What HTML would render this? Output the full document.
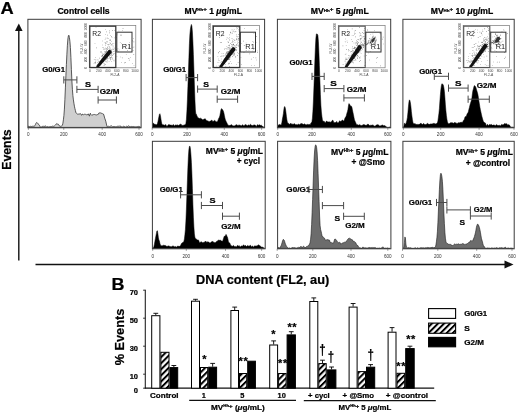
<!DOCTYPE html>
<html><head><meta charset="utf-8"><title>Figure</title>
<style>html,body{margin:0;padding:0;background:#fff;width:520px;height:414px;overflow:hidden}svg{display:block}text[font-weight="bold"]{stroke:#000;stroke-width:0.22px}</style>
</head><body>
<svg width="520" height="414" viewBox="0 0 520 414" font-family='"Liberation Sans", Arial, Helvetica, sans-serif'>
<rect width="520" height="414" fill="#fff"/>
<text x="0.6" y="14.3" font-size="16.8" font-weight="bold" text-anchor="start" fill="#000" textLength="13.2" lengthAdjust="spacingAndGlyphs">A</text>
<line x1="18.8" y1="29" x2="18.8" y2="260.5" stroke="#111" stroke-width="1.4"/>
<polygon points="18.8,23.5 15,31 22.6,31" fill="#111"/>
<text x="10.8" y="149.6" font-size="12.9" font-weight="bold" text-anchor="middle" fill="#000" transform="rotate(-90 10.8 149.6)" textLength="40.4" lengthAdjust="spacingAndGlyphs">Events</text>
<line x1="35.5" y1="264.5" x2="506" y2="264.5" stroke="#111" stroke-width="1.4"/>
<polygon points="513.5,264.5 504.5,260.6 504.5,268.4" fill="#111"/>
<text x="196" y="284.1" font-size="12.4" font-weight="bold" text-anchor="start" fill="#000" textLength="133.2" lengthAdjust="spacingAndGlyphs">DNA content (FL2, au)</text>
<text x="57.4" y="13.9" font-size="8.2" font-weight="bold" text-anchor="start" fill="#000" textLength="52.2" lengthAdjust="spacingAndGlyphs">Control cells</text>
<text x="184.55" y="13.6" font-size="8.2" font-weight="bold" textLength="57.4" lengthAdjust="spacingAndGlyphs">MV<tspan font-size="4.26" dy="-2.13">Hh</tspan><tspan font-size="5.9" dy="-0.82">+</tspan><tspan dy="2.95"> 1 <tspan font-style="italic">μ</tspan>g/mL</tspan></text>
<text x="310.75" y="13.8" font-size="8.2" font-weight="bold" textLength="58.1" lengthAdjust="spacingAndGlyphs">MV<tspan font-size="4.26" dy="-2.13">Hh</tspan><tspan font-size="5.9" dy="-0.82">+</tspan><tspan dy="2.95"> 5 <tspan font-style="italic">μ</tspan>g/mL</tspan></text>
<text x="430.75" y="13.8" font-size="8.2" font-weight="bold" textLength="62.4" lengthAdjust="spacingAndGlyphs">MV<tspan font-size="4.26" dy="-2.13">Hh</tspan><tspan font-size="5.9" dy="-0.82">+</tspan><tspan dy="2.95"> 10 <tspan font-style="italic">μ</tspan>g/mL</tspan></text>
<path d="M28.4,127.4L28.4,126.31L28.9,126.17L29.4,126.47L29.9,126.7L30.4,126.36L30.9,126.32L31.4,126.51L31.9,126.36L32.4,126.26L32.9,126.33L33.4,126.28L33.9,126.2L34.4,126.1L34.9,125.61L35.4,124.62L35.9,123.42L36.4,122.65L36.9,122.58L37.4,122.91L37.9,123.44L38.4,124.24L38.9,124.93L39.4,125.21L39.9,126.06L40.4,127.28L40.9,127.4L41.4,126.87L41.9,126.61L42.4,126.47L42.9,126.11L43.4,126.02L43.9,126.57L44.4,126.47L44.9,125.88L45.4,125.93L45.9,126.29L46.4,126.79L46.9,127.02L47.4,126.67L47.9,126.62L48.4,126.93L48.9,126.88L49.4,126.75L49.9,126.79L50.4,126.65L50.9,126.48L51.4,126.55L51.9,126.55L52.4,126.26L52.9,126.06L53.4,126.28L53.9,126.32L54.4,125.95L54.9,125.48L55.4,125.01L55.9,124.5L56.4,123.76L56.9,123.63L57.4,124.06L57.9,124.15L58.4,124.31L58.9,124.99L59.4,125.93L59.9,126.36L60.4,126.33L60.9,126.32L61.4,126.04L61.9,125.77L62.4,125.33L62.9,123.26L63.4,119.82L63.9,115.69L64.4,109.11L64.9,99.33L65.4,87.87L65.9,75.76L66.4,64.44L66.9,54.18L67.4,45.24L67.9,39.01L68.4,35.68L68.9,35.17L69.4,37.43L69.9,41.32L70.4,47.44L70.9,57.4L71.4,69.68L71.9,80.87L72.4,89.4L72.9,95.63L73.4,99.92L73.9,103.21L74.4,106.19L74.9,108.52L75.4,110.5L75.9,112.59L76.4,113.14L76.9,113.49L77.4,114.21L77.9,114.24L78.4,114.12L78.9,114L79.4,114.01L79.9,113.78L80.4,113.54L80.9,114.18L81.4,115.24L81.9,115.05L82.4,114.01L82.9,114.28L83.4,114.85L83.9,114.65L84.4,114.34L84.9,114.1L85.4,114.26L85.9,114.67L86.4,114.75L86.9,114.71L87.4,114.74L87.9,114.03L88.4,113.93L88.9,115.54L89.4,116.02L89.9,114.16L90.4,113.27L90.9,114.68L91.4,115.26L91.9,114.74L92.4,114.92L92.9,115.07L93.4,114.67L93.9,114.41L94.4,114.49L94.9,114.48L95.4,114.68L95.9,114.96L96.4,114.95L96.9,114.78L97.4,114.59L97.9,114.74L98.4,114.13L98.9,112.94L99.4,112.86L99.9,112.97L100.4,112.85L100.9,113.18L101.4,113.27L101.9,113.08L102.4,113.59L102.9,114.09L103.4,114.02L103.9,115.12L104.4,117.05L104.9,118.74L105.4,120.03L105.9,121.74L106.4,124.06L106.9,125.93L107.4,126.94L107.9,126.68L108.4,126.28L108.9,126.53L109.4,126.68L109.9,126.42L110.4,126.17L110.9,125.93L111.4,125.81L111.9,126.24L112.4,126.66L112.9,126.63L113.4,126.52L113.9,126.48L114.4,126.47L114.9,126.69L115.4,126.83L115.9,126.58L116.4,126.71L116.9,126.83L117.4,126.3L117.9,125.96L118.4,126.15L118.9,126.52L119.4,126.33L119.9,125.69L120.4,126L120.9,126.81L121.4,126.87L121.9,126.81L122.4,126.91L122.9,126.74L123.4,126.43L123.9,126.08L124.4,126.44L124.9,127.13L125.4,127.1L125.9,126.8L126.4,126.39L126.9,126.22L127.4,126.47L127.9,126.46L128.4,125.84L128.9,125.82L129.4,126.46L129.9,126.64L130.4,126.64L130.9,126.78L131.4,126.6L131.9,126.29L132.4,126.55L132.9,126.65L133.4,126.49L133.9,126.65L134.4,126.74L134.9,126.71L135.4,126.79L135.9,126.91L136.4,126.82L136.9,126.67L137.4,126.62L137.9,126.57L138.4,126.47L138.9,126.37L139.4,126.53L139.9,126.79L140.4,126.95L140.4,127.4 Z" fill="#cfcfcf" stroke="#333" stroke-width="0.8" stroke-linejoin="round"/>
<rect x="27.9" y="19.3" width="113.2" height="108.5" fill="none" stroke="#3a3a3a" stroke-width="1"/>
<line x1="28.4" y1="127.8" x2="28.4" y2="129.8" stroke="#555" stroke-width="0.6"/>
<text x="28.4" y="136" font-size="4.6" font-weight="normal" text-anchor="middle" fill="#333">0</text>
<line x1="63.75" y1="127.8" x2="63.75" y2="129.8" stroke="#555" stroke-width="0.6"/>
<text x="63.75" y="136" font-size="4.6" font-weight="normal" text-anchor="middle" fill="#333">200</text>
<line x1="102.2" y1="127.8" x2="102.2" y2="129.8" stroke="#555" stroke-width="0.6"/>
<text x="102.2" y="136" font-size="4.6" font-weight="normal" text-anchor="middle" fill="#333">400</text>
<line x1="139" y1="127.8" x2="139" y2="129.8" stroke="#555" stroke-width="0.6"/>
<text x="139" y="136" font-size="4.6" font-weight="normal" text-anchor="middle" fill="#333">600</text>
<path d="M152.9,127.4L152.9,124.62L153.4,122.9L153.9,123.74L154.4,124.58L154.9,124.11L155.4,124.24L155.9,124.88L156.4,124.75L156.9,124.57L157.4,123.85L157.9,121.86L158.4,119.37L158.9,116.77L159.4,114.41L159.9,113.69L160.4,115.39L160.9,118.64L161.4,121.8L161.9,123.91L162.4,124.8L162.9,124.82L163.4,124.84L163.9,124.93L164.4,125.17L164.9,125.37L165.4,124.66L165.9,124.52L166.4,125.81L166.9,126.57L167.4,126.01L167.9,125.14L168.4,124.75L168.9,124.57L169.4,124.63L169.9,124.9L170.4,125.07L170.9,125.03L171.4,125.11L171.9,125.58L172.4,125.56L172.9,124.81L173.4,124.56L173.9,125.37L174.4,125.92L174.9,125.46L175.4,124.96L175.9,124.82L176.4,125.09L176.9,125.47L177.4,124.9L177.9,124.83L178.4,125.54L178.9,125.18L179.4,124.64L179.9,124.7L180.4,124.27L180.9,123.95L181.4,124.65L181.9,125.42L182.4,125.44L182.9,125.13L183.4,125.17L183.9,125.29L184.4,124.98L184.9,124.66L185.4,124.48L185.9,123.45L186.4,119.35L186.9,111.06L187.4,99.95L187.9,86.69L188.4,72.37L188.9,57.67L189.4,43.77L189.9,34.17L190.4,29.23L190.9,26.16L191.4,24.44L191.9,26.14L192.4,31.97L192.9,41.82L193.4,54.67L193.9,69.16L194.4,84.95L194.9,99.28L195.4,110.03L195.9,114.57L196.4,114.28L196.9,115.79L197.4,117.1L197.9,117.39L198.4,117.87L198.9,118.34L199.4,118.51L199.9,118.37L200.4,118.17L200.9,118.45L201.4,118.78L201.9,119.03L202.4,119.55L202.9,119.94L203.4,119.54L203.9,119.02L204.4,119L204.9,118.87L205.4,118.87L205.9,120.02L206.4,120.57L206.9,120.4L207.4,120.8L207.9,121.02L208.4,121.16L208.9,121.59L209.4,121.71L209.9,121.09L210.4,121.1L210.9,121.11L211.4,120.16L211.9,120.13L212.4,120.97L212.9,121.39L213.4,121.26L213.9,120.89L214.4,120.41L214.9,120.49L215.4,121.15L215.9,121.42L216.4,121.64L216.9,121.91L217.4,121.53L217.9,120.54L218.4,119.14L218.9,118.07L219.4,117.22L219.9,115.47L220.4,112.74L220.9,109.98L221.4,108.77L221.9,108.75L222.4,109.47L222.9,110.27L223.4,111.17L223.9,112.96L224.4,115.53L224.9,118.02L225.4,119.76L225.9,121.01L226.4,121.96L226.9,122.98L227.4,124.07L227.9,124.9L228.4,125.19L228.9,125.43L229.4,125.51L229.9,125.32L230.4,125.26L230.9,124.99L231.4,124.7L231.9,124.79L232.4,125.38L232.9,125.95L233.4,125.86L233.9,125.89L234.4,125.97L234.9,125.38L235.4,125.2L235.9,125.16L236.4,124.72L236.9,124.68L237.4,125.18L237.9,125.51L238.4,125.21L238.9,125.18L239.4,125.28L239.9,124.84L240.4,125.18L240.9,125.89L241.4,125.82L241.9,125.46L242.4,124.82L242.9,124.86L243.4,125.68L243.9,125.78L244.4,125.39L244.9,124.96L245.4,124.46L245.9,124.63L246.4,125.04L246.9,125.44L247.4,125.86L247.9,125.31L248.4,124.81L248.9,125.24L249.4,125.41L249.9,124.71L250.4,124.23L250.9,124.94L251.4,125.32L251.9,125.22L252.4,125.58L252.9,125.5L253.4,125.14L253.9,125.11L254.4,125.08L254.9,124.76L255.4,125.16L255.9,126.27L256.4,126.45L256.9,125.47L257.4,124.7L257.9,124.86L258.4,125.19L258.9,125.13L259.4,124.86L259.9,124.83L260.4,125.27L260.9,125.59L261.4,125.28L261.9,125.73L262.4,126.44L262.9,126.35L263.4,126.79L263.9,127.4L263.9,127.4 Z" fill="#000" stroke="#000" stroke-width="0.5" stroke-linejoin="round"/>
<rect x="152.4" y="19.3" width="112.2" height="108.5" fill="none" stroke="#3a3a3a" stroke-width="1"/>
<line x1="152.2" y1="127.8" x2="152.2" y2="129.8" stroke="#555" stroke-width="0.6"/>
<text x="152.2" y="136" font-size="4.6" font-weight="normal" text-anchor="middle" fill="#333">0</text>
<line x1="187.1" y1="127.8" x2="187.1" y2="129.8" stroke="#555" stroke-width="0.6"/>
<text x="187.1" y="136" font-size="4.6" font-weight="normal" text-anchor="middle" fill="#333">200</text>
<line x1="224.3" y1="127.8" x2="224.3" y2="129.8" stroke="#555" stroke-width="0.6"/>
<text x="224.3" y="136" font-size="4.6" font-weight="normal" text-anchor="middle" fill="#333">400</text>
<line x1="261.6" y1="127.8" x2="261.6" y2="129.8" stroke="#555" stroke-width="0.6"/>
<text x="261.6" y="136" font-size="4.6" font-weight="normal" text-anchor="middle" fill="#333">600</text>
<path d="M277.9,127.4L277.9,125.99L278.4,124.88L278.9,124.71L279.4,124.46L279.9,124.57L280.4,124.8L280.9,125.04L281.4,124.4L281.9,122.32L282.4,119.08L282.9,116.43L283.4,113.39L283.9,109.3L284.4,106.74L284.9,106.63L285.4,108.46L285.9,112.1L286.4,116.37L286.9,119.76L287.4,122.21L287.9,123.15L288.4,123.13L288.9,123.65L289.4,124.33L289.9,124.27L290.4,123.56L290.9,123.27L291.4,123.94L291.9,124.14L292.4,124L292.9,124.44L293.4,124.33L293.9,123.74L294.4,123.72L294.9,123.88L295.4,124.51L295.9,125.09L296.4,124.59L296.9,124.78L297.4,125.1L297.9,124.29L298.4,123.92L298.9,124.48L299.4,124.78L299.9,124.44L300.4,123.9L300.9,123.41L301.4,123.5L301.9,123.69L302.4,123.7L302.9,124.25L303.4,124.53L303.9,124.01L304.4,123.85L304.9,124.34L305.4,124.54L305.9,124.82L306.4,125.1L306.9,124.31L307.4,124.15L307.9,124.75L308.4,124.66L308.9,124.3L309.4,124.33L309.9,124.86L310.4,124.47L310.9,123.06L311.4,122.51L311.9,121.94L312.4,118.2L312.9,111.13L313.4,101.02L313.9,87.98L314.4,74.04L314.9,60.01L315.4,47.37L315.9,38.09L316.4,33.9L316.9,33.96L317.4,34.17L317.9,35.38L318.4,41.57L318.9,52.35L319.4,65.49L319.9,80.28L320.4,94.3L320.9,105.24L321.4,111.99L321.9,116.35L322.4,119.77L322.9,121.28L323.4,121.35L323.9,121.2L324.4,121.53L324.9,122.62L325.4,122.98L325.9,121.97L326.4,121.07L326.9,121.17L327.4,121.72L327.9,122L328.4,121.97L328.9,121.83L329.4,121.84L329.9,122.16L330.4,122.16L330.9,121.88L331.4,121.69L331.9,121.1L332.4,120.26L332.9,120.2L333.4,121.37L333.9,122.74L334.4,122.85L334.9,122.26L335.4,122.46L335.9,122.73L336.4,121.71L336.9,121.49L337.4,122.64L337.9,123.03L338.4,122.64L338.9,122L339.4,121.11L339.9,120.79L340.4,121.29L340.9,121.46L341.4,121L341.9,120.42L342.4,120.1L342.9,120.35L343.4,120.95L343.9,120.93L344.4,119.87L344.9,118.22L345.4,117.28L345.9,116.83L346.4,115.31L346.9,113.24L347.4,111.73L347.9,109.7L348.4,106.09L348.9,103.55L349.4,103.92L349.9,104.96L350.4,105.79L350.9,106.25L351.4,106.14L351.9,107.31L352.4,109.78L352.9,112.15L353.4,114.41L353.9,117.09L354.4,119.61L354.9,120.91L355.4,121.88L355.9,123.17L356.4,124.13L356.9,124.69L357.4,124.71L357.9,124.67L358.4,125.1L358.9,125.19L359.4,124.85L359.9,124.56L360.4,124.97L360.9,125.71L361.4,125.57L361.9,125.39L362.4,125.27L362.9,124.81L363.4,124.57L363.9,124.72L364.4,124.8L364.9,124.77L365.4,125.22L365.9,125.35L366.4,125.22L366.9,125.02L367.4,124.42L367.9,124.1L368.4,124.31L368.9,125.05L369.4,125.53L369.9,125.26L370.4,125.19L370.9,125.41L371.4,125.37L371.9,125L372.4,124.88L372.9,125.13L373.4,125.24L373.9,125.65L374.4,126.07L374.9,126.13L375.4,126L375.9,125.37L376.4,124.92L376.9,125L377.4,124.78L377.9,124.55L378.4,124.92L378.9,125.32L379.4,125.8L379.9,125.96L380.4,125.78L380.9,125.83L381.4,125.49L381.9,125.04L382.4,124.96L382.9,125.37L383.4,125.68L383.9,125.54L384.4,125.59L384.9,125.68L385.4,125.88L385.9,126.38L386.4,127.02L386.9,127.4L387.4,127.4L387.9,127.4L388.4,127.4L388.9,127.4L389.4,127.11L389.9,126.94L389.9,127.4 Z" fill="#000" stroke="#000" stroke-width="0.5" stroke-linejoin="round"/>
<rect x="277.4" y="19.3" width="113.3" height="108.5" fill="none" stroke="#3a3a3a" stroke-width="1"/>
<line x1="277.7" y1="127.8" x2="277.7" y2="129.8" stroke="#555" stroke-width="0.6"/>
<text x="277.7" y="136" font-size="4.6" font-weight="normal" text-anchor="middle" fill="#333">0</text>
<line x1="312.1" y1="127.8" x2="312.1" y2="129.8" stroke="#555" stroke-width="0.6"/>
<text x="312.1" y="136" font-size="4.6" font-weight="normal" text-anchor="middle" fill="#333">200</text>
<line x1="351.3" y1="127.8" x2="351.3" y2="129.8" stroke="#555" stroke-width="0.6"/>
<text x="351.3" y="136" font-size="4.6" font-weight="normal" text-anchor="middle" fill="#333">400</text>
<line x1="387.8" y1="127.8" x2="387.8" y2="129.8" stroke="#555" stroke-width="0.6"/>
<text x="387.8" y="136" font-size="4.6" font-weight="normal" text-anchor="middle" fill="#333">600</text>
<path d="M403.4,127.4L403.4,127.4L403.9,126.08L404.4,123.27L404.9,123.58L405.4,124.16L405.9,123.54L406.4,122.15L406.9,120.33L407.4,117.47L407.9,112.74L408.4,106.95L408.9,102.19L409.4,99.85L409.9,100.56L410.4,102.82L410.9,106.42L411.4,111.68L411.9,115.93L412.4,119.42L412.9,122.21L413.4,123.5L413.9,123.87L414.4,123.83L414.9,123.6L415.4,123.77L415.9,124.44L416.4,124.56L416.9,124.21L417.4,124.3L417.9,124.78L418.4,124.53L418.9,124.29L419.4,124.36L419.9,123.86L420.4,123.52L420.9,123.35L421.4,123.6L421.9,124.37L422.4,124.57L422.9,124.09L423.4,123.56L423.9,123.64L424.4,124.24L424.9,124.56L425.4,124.57L425.9,124.45L426.4,124.24L426.9,123.68L427.4,123.29L427.9,123.84L428.4,124.13L428.9,124.07L429.4,124.37L429.9,124.34L430.4,123.91L430.9,123.95L431.4,124.1L431.9,123.78L432.4,123.83L432.9,123.83L433.4,123.48L433.9,123.34L434.4,123.39L434.9,123.7L435.4,123.86L435.9,123.94L436.4,123.76L436.9,123.12L437.4,122.76L437.9,121.02L438.4,117.17L438.9,113.54L439.4,108.45L439.9,101.12L440.4,94.56L440.9,89.22L441.4,85.53L441.9,83.8L442.4,83.88L442.9,84.48L443.4,85.37L443.9,87.73L444.4,91.55L444.9,97.56L445.4,104.9L445.9,110.8L446.4,115.44L446.9,119.14L447.4,121.75L447.9,123.17L448.4,123.61L448.9,123.69L449.4,123.54L449.9,123.21L450.4,122.77L450.9,122.83L451.4,122.85L451.9,122.56L452.4,122.74L452.9,123.12L453.4,123.27L453.9,123.04L454.4,122.59L454.9,122.55L455.4,122.7L455.9,122.89L456.4,123.14L456.9,123.38L457.4,123.38L457.9,122.85L458.4,122.74L458.9,122.84L459.4,122.7L459.9,122.83L460.4,122.62L460.9,122.1L461.4,122.26L461.9,122.38L462.4,122.15L462.9,121.65L463.4,120.51L463.9,119.98L464.4,119.14L464.9,117.26L465.4,116.47L465.9,116.64L466.4,115.93L466.9,114.41L467.4,113.37L467.9,112.93L468.4,111.54L468.9,109.37L469.4,107.52L469.9,105.36L470.4,103.47L470.9,101.99L471.4,100.29L471.9,97.92L472.4,93.85L472.9,90.52L473.4,88.92L473.9,86.76L474.4,85.52L474.9,85.91L475.4,86.41L475.9,87.44L476.4,89.2L476.9,90.9L477.4,92.59L477.9,94.59L478.4,97.57L478.9,100.94L479.4,103.89L479.9,107.11L480.4,109.79L480.9,111.91L481.4,114.31L481.9,116.41L482.4,118.2L482.9,120.04L483.4,121.4L483.9,121.95L484.4,122.38L484.9,122.81L485.4,123.06L485.9,124.38L486.4,125.75L486.9,125.16L487.4,124.32L487.9,124.75L488.4,125.39L488.9,125.27L489.4,124.62L489.9,124.41L490.4,124.66L490.9,124.63L491.4,124.42L491.9,124.85L492.4,125.36L492.9,125.11L493.4,125.01L493.9,125.07L494.4,124.93L494.9,125.6L495.4,126L495.9,124.97L496.4,124.54L496.9,125.12L497.4,125.32L497.9,125.43L498.4,125.58L498.9,125.37L499.4,125.29L499.9,125.55L500.4,125.74L500.9,125.41L501.4,124.64L501.9,124.35L502.4,124.65L502.9,125.05L503.4,124.97L503.9,124.02L504.4,123.59L504.9,123.76L505.4,123.66L505.9,123.96L506.4,123.8L506.9,123.73L507.4,124.7L507.9,125.15L508.4,124.7L508.9,124.61L509.4,125.04L509.9,125.82L510.4,126.67L510.9,127.03L511.4,127.14L511.9,127.26L512.4,127.2L512.9,127.05L513.4,126.95L513.4,127.4 Z" fill="#000" stroke="#000" stroke-width="0.5" stroke-linejoin="round"/>
<rect x="402.9" y="19.3" width="111.3" height="108.5" fill="none" stroke="#3a3a3a" stroke-width="1"/>
<line x1="403.4" y1="127.8" x2="403.4" y2="129.8" stroke="#555" stroke-width="0.6"/>
<text x="403.4" y="136" font-size="4.6" font-weight="normal" text-anchor="middle" fill="#333">0</text>
<line x1="440.7" y1="127.8" x2="440.7" y2="129.8" stroke="#555" stroke-width="0.6"/>
<text x="440.7" y="136" font-size="4.6" font-weight="normal" text-anchor="middle" fill="#333">200</text>
<line x1="479.1" y1="127.8" x2="479.1" y2="129.8" stroke="#555" stroke-width="0.6"/>
<text x="479.1" y="136" font-size="4.6" font-weight="normal" text-anchor="middle" fill="#333">400</text>
<line x1="514" y1="127.8" x2="514" y2="129.8" stroke="#555" stroke-width="0.6"/>
<text x="514" y="136" font-size="4.6" font-weight="normal" text-anchor="middle" fill="#333">600</text>
<path d="M152.9,248.4L152.9,248.4L153.4,247.82L153.9,246.5L154.4,244.18L154.9,241.34L155.4,238.63L155.9,236.1L156.4,233.4L156.9,230.97L157.4,230.78L157.9,233.85L158.4,237.8L158.9,239.92L159.4,241.06L159.9,243.31L160.4,245.12L160.9,245.5L161.4,245.71L161.9,245.79L162.4,245.71L162.9,245.55L163.4,245.22L163.9,245.37L164.4,245.57L164.9,245.19L165.4,245.38L165.9,246.11L166.4,246.25L166.9,246.13L167.4,246.22L167.9,246.29L168.4,246.02L168.9,245.87L169.4,246.2L169.9,246.48L170.4,246.55L170.9,246.81L171.4,246.77L171.9,246.48L172.4,246.27L172.9,245.74L173.4,246.06L173.9,246.84L174.4,246.78L174.9,246.67L175.4,246.5L175.9,246.68L176.4,247.15L176.9,246.82L177.4,246.17L177.9,246.08L178.4,246.29L178.9,246.25L179.4,246.36L179.9,246.37L180.4,245.7L180.9,244.67L181.4,243.73L181.9,242.99L182.4,242.78L182.9,242.48L183.4,241.96L183.9,241.35L184.4,238.97L184.9,234.84L185.4,229.46L185.9,221.05L186.4,209.12L186.9,195.21L187.4,180.94L187.9,167.37L188.4,156.2L188.9,149.49L189.4,146.47L189.9,145.99L190.4,148.48L190.9,154.19L191.4,162.27L191.9,173.5L192.4,188.37L192.9,204.14L193.4,217.15L193.9,226.88L194.4,233.94L194.9,237.34L195.4,238.18L195.9,238.88L196.4,239.17L196.9,239.48L197.4,240.01L197.9,239.92L198.4,239.9L198.9,241.07L199.4,242.41L199.9,242.7L200.4,242.19L200.9,241.81L201.4,241.84L201.9,242.17L202.4,242.52L202.9,242.66L203.4,242.49L203.9,242.25L204.4,242.26L204.9,241.69L205.4,241L205.9,241.84L206.4,242.43L206.9,241.6L207.4,241.8L207.9,242.36L208.4,241.96L208.9,242.11L209.4,242.69L209.9,242.96L210.4,242.88L210.9,242.15L211.4,241.7L211.9,241.96L212.4,241.53L212.9,241.36L213.4,242.2L213.9,242.35L214.4,242.4L214.9,242.87L215.4,242.69L215.9,241.89L216.4,241.49L216.9,241.55L217.4,241.11L217.9,240.46L218.4,240.17L218.9,240.08L219.4,240.28L219.9,240.22L220.4,240.03L220.9,240.6L221.4,241.04L221.9,241.1L222.4,241.25L222.9,240.4L223.4,238.75L223.9,237.2L224.4,236.08L224.9,236.31L225.4,236.05L225.9,234.38L226.4,234.76L226.9,236.3L227.4,236.91L227.9,238.89L228.4,241.39L228.9,242.47L229.4,242.77L229.9,243.33L230.4,244.6L230.9,245.46L231.4,245.74L231.9,246.16L232.4,246.32L232.9,245.86L233.4,245.41L233.9,245.78L234.4,246.59L234.9,246.75L235.4,246.44L235.9,246.5L236.4,246.86L236.9,246.53L237.4,245.44L237.9,245.51L238.4,246.13L238.9,245.64L239.4,245.85L239.9,246.94L240.4,246.91L240.9,246.24L241.4,245.93L241.9,246.06L242.4,246.23L242.9,245.78L243.4,244.88L243.9,244.92L244.4,246.06L244.9,246.03L245.4,245.37L245.9,246.07L246.4,246.54L246.9,246.1L247.4,245.67L247.9,245.48L248.4,245.9L248.9,246.28L249.4,246.02L249.9,245.5L250.4,245.26L250.9,245.99L251.4,246.88L251.9,246.51L252.4,245.82L252.9,246.46L253.4,247.22L253.9,246.79L254.4,245.97L254.9,245.81L255.4,246.14L255.9,245.87L256.4,245.77L256.9,246.27L257.4,245.95L257.9,245.04L258.4,244.83L258.9,245.31L259.4,245.54L259.9,245.58L260.4,246.01L260.9,246.64L261.4,247.1L261.9,247.34L262.4,247.13L262.9,247.12L263.4,247.73L263.9,247.92L264.4,247.91L264.4,248.4 Z" fill="#000" stroke="#000" stroke-width="0.5" stroke-linejoin="round"/>
<rect x="152.4" y="141.3" width="112.8" height="107.5" fill="none" stroke="#3a3a3a" stroke-width="1"/>
<line x1="152.7" y1="248.8" x2="152.7" y2="250.8" stroke="#555" stroke-width="0.6"/>
<text x="152.7" y="257.8" font-size="4.6" font-weight="normal" text-anchor="middle" fill="#333">0</text>
<line x1="186.3" y1="248.8" x2="186.3" y2="250.8" stroke="#555" stroke-width="0.6"/>
<text x="186.3" y="257.8" font-size="4.6" font-weight="normal" text-anchor="middle" fill="#333">200</text>
<line x1="225.5" y1="248.8" x2="225.5" y2="250.8" stroke="#555" stroke-width="0.6"/>
<text x="225.5" y="257.8" font-size="4.6" font-weight="normal" text-anchor="middle" fill="#333">400</text>
<line x1="261.6" y1="248.8" x2="261.6" y2="250.8" stroke="#555" stroke-width="0.6"/>
<text x="261.6" y="257.8" font-size="4.6" font-weight="normal" text-anchor="middle" fill="#333">600</text>
<path d="M278.1,248.4L278.1,247.5L278.6,247.57L279.1,248.4L279.6,248.11L280.1,247.12L280.6,246.5L281.1,245.67L281.6,244.27L282.1,242.59L282.6,240.72L283.1,239.49L283.6,239.6L284.1,240.11L284.6,241.31L285.1,243.11L285.6,244.41L286.1,245.38L286.6,246.41L287.1,247.14L287.6,247.53L288.1,248.07L288.6,248.28L289.1,247.96L289.6,248.05L290.1,248.4L290.6,248.4L291.1,248.19L291.6,247.93L292.1,247.6L292.6,247.54L293.1,247.71L293.6,247.65L294.1,247.61L294.6,247.64L295.1,247.67L295.6,247.93L296.1,248.16L296.6,248.04L297.1,247.76L297.6,247.82L298.1,247.66L298.6,247.17L299.1,247.34L299.6,247.47L300.1,246.91L300.6,246.57L301.1,246.74L301.6,246.79L302.1,247.05L302.6,247.25L303.1,246.6L303.6,246.29L304.1,246.65L304.6,247.06L305.1,247.56L305.6,247.6L306.1,246.93L306.6,246.47L307.1,246.46L307.6,246.13L308.1,245.72L308.6,245.55L309.1,244.82L309.6,243.84L310.1,242.4L310.6,239.24L311.1,233.82L311.6,224.63L312.1,212.55L312.6,199.52L313.1,185.15L313.6,170.85L314.1,158.99L314.6,150.96L315.1,146.48L315.6,144.88L316.1,145.31L316.6,147.33L317.1,151.7L317.6,160.38L318.1,173.55L318.6,187.53L319.1,201.5L319.6,216.03L320.1,225.61L320.6,229.48L321.1,231.24L321.6,233.65L322.1,236.02L322.6,236.82L323.1,236.75L323.6,237.46L324.1,238.2L324.6,238.33L325.1,239.37L325.6,240.45L326.1,240.21L326.6,239.78L327.1,239.73L327.6,239.62L328.1,239.62L328.6,240.03L329.1,240.01L329.6,240.31L330.1,241.95L330.6,242.59L331.1,242.18L331.6,242.75L332.1,243.32L332.6,242.89L333.1,243L333.6,242.89L334.1,241.06L334.6,239.28L335.1,238.89L335.6,239.27L336.1,239.8L336.6,240.43L337.1,241.15L337.6,241.88L338.1,242.5L338.6,242.78L339.1,242.49L339.6,242.15L340.1,242.69L340.6,244.01L341.1,244.27L341.6,243.48L342.1,243.18L342.6,242.96L343.1,242.78L343.6,242.65L344.1,242.34L344.6,242.24L345.1,242.53L345.6,242.32L346.1,241.38L346.6,240.79L347.1,240.3L347.6,239.53L348.1,238.82L348.6,238.51L349.1,238.29L349.6,238.24L350.1,238.64L350.6,238.86L351.1,238.97L351.6,239.64L352.1,239.85L352.6,239.88L353.1,241.22L353.6,241.57L354.1,241.24L354.6,242.07L355.1,242.38L355.6,242.45L356.1,243.48L356.6,244.75L357.1,245.31L357.6,245.24L358.1,246.02L358.6,247.2L359.1,247.59L359.6,247.71L360.1,247.81L360.6,248.03L361.1,248.37L361.6,248.34L362.1,247.95L362.6,247.24L363.1,246.94L363.6,247.52L364.1,247.9L364.6,247.86L365.1,247.88L365.6,247.81L366.1,247.84L366.6,248.11L367.1,248.26L367.6,247.98L368.1,247.74L368.6,247.67L369.1,247.45L369.6,247.56L370.1,247.69L370.6,247.71L371.1,247.94L371.6,247.59L372.1,247.36L372.6,247.85L373.1,247.97L373.6,247.56L374.1,247.41L374.6,247.66L375.1,247.76L375.6,247.69L376.1,248L376.6,248.38L377.1,248.27L377.6,248.28L378.1,248.4L378.6,248.24L379.1,248.08L379.6,248.14L380.1,248.4L380.6,248.4L381.1,248.4L381.6,247.68L382.1,247.25L382.6,247.19L383.1,247.24L383.6,247.41L384.1,247.88L384.6,248.35L385.1,248.26L385.6,248.18L386.1,248.38L386.6,248.26L387.1,247.86L387.6,248.12L388.1,248.4L388.6,248.33L389.1,248.39L389.6,248.4L390.1,248.4L390.1,248.4 Z" fill="#6c6c6c" stroke="#1a1a1a" stroke-width="0.6" stroke-linejoin="round"/>
<rect x="277.6" y="141.3" width="113.3" height="107.5" fill="none" stroke="#3a3a3a" stroke-width="1"/>
<line x1="277.2" y1="248.8" x2="277.2" y2="250.8" stroke="#555" stroke-width="0.6"/>
<text x="277.2" y="257.8" font-size="4.6" font-weight="normal" text-anchor="middle" fill="#333">0</text>
<line x1="312.8" y1="248.8" x2="312.8" y2="250.8" stroke="#555" stroke-width="0.6"/>
<text x="312.8" y="257.8" font-size="4.6" font-weight="normal" text-anchor="middle" fill="#333">200</text>
<line x1="351" y1="248.8" x2="351" y2="250.8" stroke="#555" stroke-width="0.6"/>
<text x="351" y="257.8" font-size="4.6" font-weight="normal" text-anchor="middle" fill="#333">400</text>
<line x1="387.8" y1="248.8" x2="387.8" y2="250.8" stroke="#555" stroke-width="0.6"/>
<text x="387.8" y="257.8" font-size="4.6" font-weight="normal" text-anchor="middle" fill="#333">600</text>
<path d="M403.4,248.4L403.4,248.26L403.9,247L404.4,242.58L404.9,236.93L405.4,237.9L405.9,244L406.4,246.98L406.9,247.44L407.4,247.83L407.9,247.97L408.4,247.7L408.9,247.62L409.4,247.85L409.9,248.04L410.4,247.84L410.9,247.8L411.4,248.13L411.9,248.36L412.4,248.4L412.9,248.4L413.4,248.4L413.9,248.28L414.4,248.14L414.9,247.88L415.4,247.75L415.9,248.17L416.4,248.4L416.9,248.29L417.4,247.87L417.9,247.98L418.4,248.26L418.9,248.27L419.4,248.24L419.9,248.01L420.4,247.73L420.9,247.88L421.4,247.8L421.9,247.64L422.4,247.85L422.9,247.89L423.4,247.78L423.9,247.93L424.4,248.11L424.9,247.76L425.4,247.63L425.9,247.92L426.4,247.76L426.9,247.74L427.4,247.69L427.9,247.24L428.4,247.48L428.9,248.01L429.4,247.86L429.9,247.65L430.4,247.66L430.9,247.62L431.4,247.59L431.9,247.36L432.4,247.3L432.9,247.61L433.4,247.69L433.9,247.58L434.4,247.54L434.9,247.46L435.4,246.8L435.9,245.04L436.4,241.87L436.9,237.54L437.4,231.8L437.9,222.49L438.4,211.1L438.9,200.12L439.4,189.33L439.9,180.22L440.4,174.69L440.9,173.21L441.4,174.09L441.9,176.56L442.4,181.32L442.9,189.4L443.4,200.93L443.9,213.02L444.4,223.69L444.9,232.26L445.4,238.16L445.9,241.39L446.4,242.76L446.9,243.41L447.4,243.54L447.9,243.84L448.4,244.21L448.9,244.35L449.4,244.39L449.9,244.29L450.4,244.33L450.9,244.66L451.4,244.93L451.9,245.03L452.4,245.53L452.9,245.69L453.4,245.19L453.9,244.86L454.4,244.14L454.9,243.7L455.4,244.4L455.9,244.71L456.4,244.26L456.9,244.09L457.4,244.26L457.9,244.19L458.4,243.85L458.9,244L459.4,244.42L459.9,244.29L460.4,244.24L460.9,244.35L461.4,244.23L461.9,244.02L462.4,243.64L462.9,243.57L463.4,243.85L463.9,244.01L464.4,244.28L464.9,244.71L465.4,244.38L465.9,244.04L466.4,244.05L466.9,243.76L467.4,243.55L467.9,243.19L468.4,242.75L468.9,242.22L469.4,242.11L469.9,241.98L470.4,240.86L470.9,240.35L471.4,240.9L471.9,241.13L472.4,241.01L472.9,240.35L473.4,239.1L473.9,238.01L474.4,236.64L474.9,234.78L475.4,232.88L475.9,230.3L476.4,227.36L476.9,225.41L477.4,224.26L477.9,224.19L478.4,225.02L478.9,226.06L479.4,227.59L479.9,229.64L480.4,232.22L480.9,235.27L481.4,238.28L481.9,240.09L482.4,241.55L482.9,243.88L483.4,245.59L483.9,246.04L484.4,246.72L484.9,247.76L485.4,248.17L485.9,248.38L486.4,248.4L486.9,248.05L487.4,247.96L487.9,248.16L488.4,248.21L488.9,248.14L489.4,248.19L489.9,248.34L490.4,248.4L490.9,248.37L491.4,247.98L491.9,248.02L492.4,248.09L492.9,248.13L493.4,248.28L493.9,248.2L494.4,248.04L494.9,248.12L495.4,248.17L495.9,247.97L496.4,247.72L496.9,247.74L497.4,247.99L497.9,248.36L498.4,248.4L498.9,247.92L499.4,247.76L499.9,247.95L500.4,247.89L500.9,247.73L501.4,247.68L501.9,247.82L502.4,247.91L502.9,247.93L503.4,248.11L503.9,247.98L504.4,247.76L504.9,247.59L505.4,247.34L505.9,247.64L506.4,248.4L506.9,248.4L507.4,248.23L507.9,248.25L508.4,248.12L508.9,248.1L509.4,248.4L509.9,248.4L510.4,248.29L510.9,248.09L511.4,248.18L511.9,248.35L512.4,248.4L512.9,248.4L513.4,248.4L513.4,248.4 Z" fill="#6c6c6c" stroke="#1a1a1a" stroke-width="0.6" stroke-linejoin="round"/>
<rect x="402.9" y="141.3" width="111.3" height="107.5" fill="none" stroke="#3a3a3a" stroke-width="1"/>
<line x1="402.5" y1="248.8" x2="402.5" y2="250.8" stroke="#555" stroke-width="0.6"/>
<text x="402.5" y="257.8" font-size="4.6" font-weight="normal" text-anchor="middle" fill="#333">0</text>
<line x1="437.8" y1="248.8" x2="437.8" y2="250.8" stroke="#555" stroke-width="0.6"/>
<text x="437.8" y="257.8" font-size="4.6" font-weight="normal" text-anchor="middle" fill="#333">200</text>
<line x1="476.7" y1="248.8" x2="476.7" y2="250.8" stroke="#555" stroke-width="0.6"/>
<text x="476.7" y="257.8" font-size="4.6" font-weight="normal" text-anchor="middle" fill="#333">400</text>
<line x1="512" y1="248.8" x2="512" y2="250.8" stroke="#555" stroke-width="0.6"/>
<text x="512" y="257.8" font-size="4.6" font-weight="normal" text-anchor="middle" fill="#333">600</text>
<rect x="89.3" y="25.5" width="46.5" height="42.3" fill="#fff" stroke="#777" stroke-width="0.7"/>
<path fill="#666" d="M127.12 50.35h.6v.6h-.6zM105 29.15h.6v.6h-.6zM132.73 50.34h.6v.6h-.6zM125.31 62.37h.6v.6h-.6zM121.17 34.78h.6v.6h-.6zM133.05 38.41h.6v.6h-.6zM118.79 49.75h.6v.6h-.6zM117.6 48h.6v.6h-.6zM133.63 46.72h.6v.6h-.6zM124.53 46.43h.6v.6h-.6zM133.71 64.98h.6v.6h-.6zM109.24 39.83h.6v.6h-.6zM128.22 58.11h.6v.6h-.6zM121.3 43.15h.6v.6h-.6zM109.09 32.54h.6v.6h-.6zM118.63 30.66h.6v.6h-.6zM104.42 52.63h.6v.6h-.6zM93.89 59.46h.6v.6h-.6zM96.23 47.57h.6v.6h-.6zM115.44 36.2h.6v.6h-.6zM132.02 40.56h.6v.6h-.6zM113.74 60.72h.6v.6h-.6zM119.91 42.23h.6v.6h-.6zM97.2 64.11h.6v.6h-.6zM117.18 49.8h.6v.6h-.6zM117.48 33.2h.6v.6h-.6zM115.98 49.07h.6v.6h-.6zM116.83 34.58h.6v.6h-.6zM122.04 30.18h.6v.6h-.6zM106.46 31.59h.6v.6h-.6zM123.6 46.71h.6v.6h-.6zM112.19 30.32h.6v.6h-.6zM111.2 36.06h.6v.6h-.6zM105.57 42.6h.6v.6h-.6zM121.92 57.62h.6v.6h-.6zM107.75 53.17h.6v.6h-.6zM113.96 53.2h.6v.6h-.6zM106.68 61.91h.6v.6h-.6zM120.14 34.85h.6v.6h-.6zM116.59 56.2h.6v.6h-.6zM124.89 44.27h.6v.6h-.6zM104.57 51.09h.6v.6h-.6zM122.86 46.93h.6v.6h-.6zM100.78 51.03h.6v.6h-.6zM124.09 62.55h.6v.6h-.6zM133.58 41.61h.6v.6h-.6zM125.93 53.91h.6v.6h-.6zM132.7 46.99h.6v.6h-.6zM128.16 46.8h.6v.6h-.6zM104.97 64.28h.6v.6h-.6zM104.81 39.4h.6v.6h-.6zM95.72 27.52h.6v.6h-.6zM107.13 37.87h.6v.6h-.6zM122.72 28.06h.6v.6h-.6zM129.41 58.77h.6v.6h-.6zM130.14 56.89h.6v.6h-.6zM119.93 56.75h.6v.6h-.6zM128.93 60.2h.6v.6h-.6zM104.25 63.97h.6v.6h-.6zM133.5 54.07h.6v.6h-.6zM118.13 50.99h.6v.6h-.6zM121.08 62.21h.6v.6h-.6zM105.83 42.84h.6v.6h-.6zM106.09 55.15h.6v.6h-.6zM94.68 42.96h.6v.6h-.6zM109.68 42.57h.6v.6h-.6zM116.33 36.9h.6v.6h-.6zM129.42 41.98h.6v.6h-.6zM132.09 63.13h.6v.6h-.6zM107.38 41.62h.6v.6h-.6zM105.55 52.84h.6v.6h-.6zM99.06 61.58h.6v.6h-.6zM111.7 52.51h.6v.6h-.6zM110.52 52.53h.6v.6h-.6zM101.34 63.66h.6v.6h-.6zM100.69 52.33h.6v.6h-.6zM108.9 53.63h.6v.6h-.6zM104.59 55.6h.6v.6h-.6zM101.06 61.38h.6v.6h-.6zM105.45 54.64h.6v.6h-.6zM110.49 54.7h.6v.6h-.6zM97.32 62.16h.6v.6h-.6zM104.52 49.41h.6v.6h-.6zM106.63 52.76h.6v.6h-.6zM107.76 51.75h.6v.6h-.6zM105.55 56.01h.6v.6h-.6zM110.11 57.42h.6v.6h-.6zM109.8 48.78h.6v.6h-.6zM101.47 56.18h.6v.6h-.6zM108.24 55h.6v.6h-.6zM93.76 63.51h.6v.6h-.6zM97.86 63.39h.6v.6h-.6zM105.24 54.36h.6v.6h-.6zM100.85 60.79h.6v.6h-.6zM96.71 65.26h.6v.6h-.6zM101.89 55.05h.6v.6h-.6zM103.76 65.31h.6v.6h-.6zM110.97 50.55h.6v.6h-.6zM100.44 60.32h.6v.6h-.6zM101.52 59.39h.6v.6h-.6zM99.7 61.32h.6v.6h-.6zM96.89 66.59h.6v.6h-.6zM94.65 62.36h.6v.6h-.6zM103.5 54.5h.6v.6h-.6zM104.95 47.71h.6v.6h-.6zM107.2 52h.6v.6h-.6zM96.96 63.96h.6v.6h-.6zM103.75 63.09h.6v.6h-.6zM106.98 51.9h.6v.6h-.6zM100.63 50.88h.6v.6h-.6zM107.83 48.5h.6v.6h-.6zM106.59 53.55h.6v.6h-.6zM94.92 59.57h.6v.6h-.6zM107.25 53.49h.6v.6h-.6zM109.91 47.74h.6v.6h-.6zM96.01 65.81h.6v.6h-.6zM102.77 57.69h.6v.6h-.6zM102.16 58.91h.6v.6h-.6zM102.02 55.16h.6v.6h-.6zM101.95 55.34h.6v.6h-.6zM99.32 57.85h.6v.6h-.6zM104.95 52.19h.6v.6h-.6zM102.02 53.69h.6v.6h-.6zM112.48 48.84h.6v.6h-.6zM101.81 58.01h.6v.6h-.6zM111.37 52.93h.6v.6h-.6zM104.59 54.49h.6v.6h-.6zM101.68 55.22h.6v.6h-.6zM102.09 56.75h.6v.6h-.6zM103.43 59.96h.6v.6h-.6zM110.25 52.69h.6v.6h-.6zM95.44 63.27h.6v.6h-.6zM102.97 49.49h.6v.6h-.6zM107.82 53.94h.6v.6h-.6zM106.17 51.34h.6v.6h-.6zM110.96 57.24h.6v.6h-.6zM102.73 59.82h.6v.6h-.6zM95.35 61.79h.6v.6h-.6zM100.29 64.24h.6v.6h-.6zM106.32 48.27h.6v.6h-.6zM102.95 55.88h.6v.6h-.6zM104.49 58.86h.6v.6h-.6zM100.36 64.28h.6v.6h-.6zM102.4 59.58h.6v.6h-.6zM112.72 53.76h.6v.6h-.6zM111.11 53.81h.6v.6h-.6zM107.73 46.02h.6v.6h-.6zM109.21 56.58h.6v.6h-.6zM109 54.78h.6v.6h-.6zM95.23 57.47h.6v.6h-.6zM97.99 66.37h.6v.6h-.6zM101.72 52.71h.6v.6h-.6zM100.3 60.86h.6v.6h-.6zM99.85 62.54h.6v.6h-.6zM102.76 59.73h.6v.6h-.6zM101.84 62.16h.6v.6h-.6zM108.74 50.91h.6v.6h-.6zM103.07 60.77h.6v.6h-.6zM103.28 61.57h.6v.6h-.6zM103.06 54.25h.6v.6h-.6zM108.58 58.2h.6v.6h-.6zM101.85 59.15h.6v.6h-.6zM109.39 51.18h.6v.6h-.6zM103.76 53.77h.6v.6h-.6zM105.63 52.21h.6v.6h-.6zM102.61 55.49h.6v.6h-.6zM94.88 61.82h.6v.6h-.6zM106.87 57.47h.6v.6h-.6zM103.56 58.21h.6v.6h-.6zM99.98 65.23h.6v.6h-.6zM106.08 48.84h.6v.6h-.6zM112.13 57.77h.6v.6h-.6zM98.51 59.66h.6v.6h-.6zM106.72 57.7h.6v.6h-.6zM110.01 59.41h.6v.6h-.6zM110.08 57.9h.6v.6h-.6zM98.03 61.6h.6v.6h-.6zM106.03 55.53h.6v.6h-.6zM96.82 59.62h.6v.6h-.6zM108.01 51.59h.6v.6h-.6zM102.03 40.69h.6v.6h-.6zM110.23 50.99h.6v.6h-.6zM106.31 50.7h.6v.6h-.6zM111.19 44.59h.6v.6h-.6zM107.48 48.65h.6v.6h-.6zM111.86 57.8h.6v.6h-.6zM110.2 40.28h.6v.6h-.6zM110.4 56.97h.6v.6h-.6zM108.06 55.48h.6v.6h-.6zM107.21 48.69h.6v.6h-.6zM106.45 54.02h.6v.6h-.6zM103.82 60.66h.6v.6h-.6zM104.88 59.33h.6v.6h-.6zM106.9 58.64h.6v.6h-.6zM105.48 51.43h.6v.6h-.6zM106.93 60h.6v.6h-.6zM114.46 50.78h.6v.6h-.6zM108.33 50.94h.6v.6h-.6zM105.82 52.27h.6v.6h-.6zM105.71 58.73h.6v.6h-.6zM105.96 59.5h.6v.6h-.6zM107.43 56.01h.6v.6h-.6zM110.13 43.06h.6v.6h-.6zM109.21 46.48h.6v.6h-.6zM101.12 56.18h.6v.6h-.6zM102.08 58.53h.6v.6h-.6zM103.25 47.45h.6v.6h-.6zM104.22 57.41h.6v.6h-.6zM101.8 59.59h.6v.6h-.6zM112.77 46.56h.6v.6h-.6zM103.67 47.99h.6v.6h-.6zM111.81 58.9h.6v.6h-.6zM113.68 59.84h.6v.6h-.6zM111.4 53.7h.6v.6h-.6zM112.92 51.04h.6v.6h-.6zM104.69 50.91h.6v.6h-.6zM114.6 37.62h.6v.6h-.6zM109.1 30.61h.6v.6h-.6zM104.99 61.21h.6v.6h-.6zM103.22 61.17h.6v.6h-.6zM113.36 53.81h.6v.6h-.6zM103.58 58.34h.6v.6h-.6zM109.72 53.08h.6v.6h-.6zM110.67 44.72h.6v.6h-.6zM103.75 53.4h.6v.6h-.6zM108.49 44.62h.6v.6h-.6zM110.06 35.5h.6v.6h-.6zM110.06 51.8h.6v.6h-.6zM105.62 37.86h.6v.6h-.6zM103.2 57.79h.6v.6h-.6zM106.37 50.2h.6v.6h-.6zM111.69 37.45h.6v.6h-.6zM110.19 54.85h.6v.6h-.6zM107.27 56.2h.6v.6h-.6zM104.86 48.63h.6v.6h-.6zM102.33 55.77h.6v.6h-.6zM105.18 33.92h.6v.6h-.6zM105.78 58.59h.6v.6h-.6zM112.04 55.05h.6v.6h-.6zM114.4 30.15h.6v.6h-.6zM104.67 42.48h.6v.6h-.6zM111.25 41.21h.6v.6h-.6zM107.19 56.69h.6v.6h-.6zM108.75 60.94h.6v.6h-.6zM106.62 61.12h.6v.6h-.6zM102.1 44.66h.6v.6h-.6zM101.53 61.78h.6v.6h-.6zM108.04 53.24h.6v.6h-.6zM105.33 45.48h.6v.6h-.6zM101.97 47.19h.6v.6h-.6zM109.44 57.69h.6v.6h-.6zM112.67 44.99h.6v.6h-.6zM110.27 58.64h.6v.6h-.6zM108.13 55.27h.6v.6h-.6zM108.81 44.13h.6v.6h-.6zM110.11 57.28h.6v.6h-.6zM105.46 53.01h.6v.6h-.6zM106.11 41.42h.6v.6h-.6zM103 56.99h.6v.6h-.6zM107.38 34.8h.6v.6h-.6zM107.36 49.5h.6v.6h-.6zM106.03 54.27h.6v.6h-.6zM106.19 55.95h.6v.6h-.6zM105.11 55.61h.6v.6h-.6zM107.5 48.44h.6v.6h-.6zM109.38 51.53h.6v.6h-.6zM113.35 49.27h.6v.6h-.6zM114.71 48.71h.6v.6h-.6zM114.09 47.69h.6v.6h-.6zM111.09 56.6h.6v.6h-.6zM107.57 53.21h.6v.6h-.6zM108.44 38.39h.6v.6h-.6zM101.94 58.84h.6v.6h-.6zM110.13 59.69h.6v.6h-.6zM109.67 49.47h.6v.6h-.6zM109.19 47.61h.6v.6h-.6zM113.57 48.69h.6v.6h-.6zM111.19 61.26h.6v.6h-.6zM105.42 43.56h.6v.6h-.6zM107.25 52.61h.6v.6h-.6zM107.64 44.05h.6v.6h-.6zM103.18 61.66h.6v.6h-.6zM109.07 53.47h.6v.6h-.6zM104.93 59.9h.6v.6h-.6zM104.87 55.27h.6v.6h-.6zM113.54 43.01h.6v.6h-.6zM110.36 38.89h.6v.6h-.6zM103.21 61.39h.6v.6h-.6zM112.23 43.51h.6v.6h-.6zM107.32 47.31h.6v.6h-.6zM101.31 62.79h.6v.6h-.6zM111.79 44.44h.6v.6h-.6zM102.31 54.71h.6v.6h-.6zM109.23 50.45h.6v.6h-.6zM111.08 48.89h.6v.6h-.6zM107.3 57.83h.6v.6h-.6zM106.79 57.51h.6v.6h-.6zM107.92 51.23h.6v.6h-.6zM106.73 53.45h.6v.6h-.6zM111.28 55.18h.6v.6h-.6z"/>
<polygon points="98.16,67.98 104.35,61.11 111.81,52.62 111.43,50.67 109.68,49.67 108.56,50.06 101.52,58.88 96.18,66.41" fill="#111"/>
<rect x="89.8" y="26.2" width="26" height="41.3" fill="none" stroke="#333" stroke-width="1.25"/>
<rect x="116.8" y="32.2" width="15.2" height="19.8" fill="none" stroke="#333" stroke-width="1.0"/>
<text x="92.3" y="35.8" font-size="6.8" font-weight="normal" text-anchor="start" fill="#222">R2</text>
<text x="121.8" y="48.8" font-size="7.4" font-weight="normal" text-anchor="start" fill="#222">R1</text>
<text x="89.8" y="72.4" font-size="3.3" font-weight="normal" text-anchor="middle" fill="#444">0</text>
<text x="87.1" y="67.8" font-size="3.3" font-weight="normal" text-anchor="middle" fill="#444" transform="rotate(-90 87.1 67.8)">0</text>
<text x="98.82" y="72.4" font-size="3.3" font-weight="normal" text-anchor="middle" fill="#444">200</text>
<text x="87.1" y="59.59" font-size="3.3" font-weight="normal" text-anchor="middle" fill="#444" transform="rotate(-90 87.1 59.59)">200</text>
<text x="107.84" y="72.4" font-size="3.3" font-weight="normal" text-anchor="middle" fill="#444">400</text>
<text x="87.1" y="51.39" font-size="3.3" font-weight="normal" text-anchor="middle" fill="#444" transform="rotate(-90 87.1 51.39)">400</text>
<text x="116.86" y="72.4" font-size="3.3" font-weight="normal" text-anchor="middle" fill="#444">600</text>
<text x="87.1" y="43.18" font-size="3.3" font-weight="normal" text-anchor="middle" fill="#444" transform="rotate(-90 87.1 43.18)">600</text>
<text x="125.88" y="72.4" font-size="3.3" font-weight="normal" text-anchor="middle" fill="#444">800</text>
<text x="87.1" y="34.98" font-size="3.3" font-weight="normal" text-anchor="middle" fill="#444" transform="rotate(-90 87.1 34.98)">800</text>
<text x="134.91" y="72.4" font-size="3.3" font-weight="normal" text-anchor="middle" fill="#444">1000</text>
<text x="87.1" y="26.77" font-size="3.3" font-weight="normal" text-anchor="middle" fill="#444" transform="rotate(-90 87.1 26.77)">1000</text>
<text x="114.88" y="76.2" font-size="3.3" font-weight="normal" text-anchor="middle" fill="#444">FL2-A</text>
<text x="82.7" y="48.65" font-size="3.3" font-weight="normal" text-anchor="middle" fill="#444" transform="rotate(-90 82.7 48.65)">FL2-W</text>
<rect x="212.8" y="25.5" width="46.6" height="42.3" fill="#fff" stroke="#777" stroke-width="0.7"/>
<path fill="#666" d="M255.11 41.27h.6v.6h-.6zM248.66 50.15h.6v.6h-.6zM228.75 62.84h.6v.6h-.6zM252.09 41.45h.6v.6h-.6zM256.31 36.1h.6v.6h-.6zM249.5 53.58h.6v.6h-.6zM235.93 28.68h.6v.6h-.6zM253.13 49.47h.6v.6h-.6zM232.65 41.08h.6v.6h-.6zM243.27 40.79h.6v.6h-.6zM237.41 41.71h.6v.6h-.6zM219.04 37.09h.6v.6h-.6zM250.94 58.84h.6v.6h-.6zM243.89 45.52h.6v.6h-.6zM256.18 59.68h.6v.6h-.6zM226.75 49.24h.6v.6h-.6zM255.61 57.59h.6v.6h-.6zM231.8 45.5h.6v.6h-.6zM237.82 62.04h.6v.6h-.6zM245.8 42.75h.6v.6h-.6zM235.56 31.04h.6v.6h-.6zM236.78 36.27h.6v.6h-.6zM220.58 31h.6v.6h-.6zM225.56 54.28h.6v.6h-.6zM224.07 49.27h.6v.6h-.6zM241.27 64.51h.6v.6h-.6zM235.4 57.16h.6v.6h-.6zM218.22 52.19h.6v.6h-.6zM256.6 29.31h.6v.6h-.6zM253.65 33.47h.6v.6h-.6zM244.22 28.47h.6v.6h-.6zM219.3 32.66h.6v.6h-.6zM253.39 57.48h.6v.6h-.6zM243.67 52.37h.6v.6h-.6zM228.73 47.73h.6v.6h-.6zM236.36 63.93h.6v.6h-.6zM235.24 56.11h.6v.6h-.6zM231.36 62.94h.6v.6h-.6zM251.41 65.49h.6v.6h-.6zM226.02 60.84h.6v.6h-.6zM236.17 47.01h.6v.6h-.6zM238.8 31.02h.6v.6h-.6zM252.57 50.65h.6v.6h-.6zM221.08 55.81h.6v.6h-.6zM221.41 42.1h.6v.6h-.6zM243.98 45.32h.6v.6h-.6zM219.44 51.33h.6v.6h-.6zM231.69 42.11h.6v.6h-.6zM223.42 34.54h.6v.6h-.6zM257.12 50.65h.6v.6h-.6zM240.65 57.41h.6v.6h-.6zM232.37 33.4h.6v.6h-.6zM241.45 43.01h.6v.6h-.6zM233.18 30.86h.6v.6h-.6zM233.89 29.49h.6v.6h-.6zM253.42 41.86h.6v.6h-.6zM245.84 50.03h.6v.6h-.6zM234.67 40.46h.6v.6h-.6zM218.1 52.57h.6v.6h-.6zM220.84 36.49h.6v.6h-.6zM255.73 41.89h.6v.6h-.6zM231.52 53.92h.6v.6h-.6zM227.75 41.6h.6v.6h-.6zM229.28 54.13h.6v.6h-.6zM219.94 42.09h.6v.6h-.6zM257.29 52.05h.6v.6h-.6zM236.09 38.58h.6v.6h-.6zM217.72 62.33h.6v.6h-.6zM254.18 64.98h.6v.6h-.6zM236.27 50.22h.6v.6h-.6zM227.58 54.84h.6v.6h-.6zM226.79 56.5h.6v.6h-.6zM229.07 50.15h.6v.6h-.6zM232.61 46.13h.6v.6h-.6zM223.55 56.15h.6v.6h-.6zM229.52 40.25h.6v.6h-.6zM228.28 63.55h.6v.6h-.6zM224.42 63.48h.6v.6h-.6zM226.63 55.45h.6v.6h-.6zM221.19 58.63h.6v.6h-.6zM232.09 48.37h.6v.6h-.6zM229.28 48.53h.6v.6h-.6zM224.49 62.24h.6v.6h-.6zM222.81 63.89h.6v.6h-.6zM221.91 65.83h.6v.6h-.6zM226.04 58.92h.6v.6h-.6zM222.85 62.11h.6v.6h-.6zM231.7 51.31h.6v.6h-.6zM228.35 58.7h.6v.6h-.6zM229.15 55.09h.6v.6h-.6zM228.7 49.14h.6v.6h-.6zM231.97 47.63h.6v.6h-.6zM232.17 56.29h.6v.6h-.6zM227.98 58.82h.6v.6h-.6zM231.75 44.33h.6v.6h-.6zM225.05 56.78h.6v.6h-.6zM227.4 53.07h.6v.6h-.6zM218.8 65.09h.6v.6h-.6zM220.13 55.89h.6v.6h-.6zM230.3 50.46h.6v.6h-.6zM222.76 61.58h.6v.6h-.6zM223.72 63.51h.6v.6h-.6zM232.69 50.38h.6v.6h-.6zM235.51 46h.6v.6h-.6zM222.36 63.08h.6v.6h-.6zM229.55 58.14h.6v.6h-.6zM227.71 55.79h.6v.6h-.6zM227.62 47.89h.6v.6h-.6zM218.31 58.76h.6v.6h-.6zM232.8 44.57h.6v.6h-.6zM231.44 53.4h.6v.6h-.6zM219.94 65.24h.6v.6h-.6zM225.71 59.03h.6v.6h-.6zM232.85 51.75h.6v.6h-.6zM229.9 49.92h.6v.6h-.6zM224.24 62.57h.6v.6h-.6zM227.94 51.23h.6v.6h-.6zM225.51 66.27h.6v.6h-.6zM229.14 48.67h.6v.6h-.6zM226.23 57.97h.6v.6h-.6zM226.09 57.62h.6v.6h-.6zM227.38 52.5h.6v.6h-.6zM227.42 58.35h.6v.6h-.6zM236.82 44.82h.6v.6h-.6zM227.07 52.81h.6v.6h-.6zM216.48 65.67h.6v.6h-.6zM234.28 45.73h.6v.6h-.6zM230.02 61.22h.6v.6h-.6zM223.91 61.25h.6v.6h-.6zM221.71 63.52h.6v.6h-.6zM224.94 59.85h.6v.6h-.6zM223 60.09h.6v.6h-.6zM233.84 53.61h.6v.6h-.6zM226.32 55.36h.6v.6h-.6zM221.25 61.02h.6v.6h-.6zM228.24 59.52h.6v.6h-.6zM227.86 53.75h.6v.6h-.6zM228.74 55.12h.6v.6h-.6zM226.51 52.1h.6v.6h-.6zM223.75 59.08h.6v.6h-.6zM228.38 54.88h.6v.6h-.6zM231.91 49.74h.6v.6h-.6zM221.66 53.43h.6v.6h-.6zM233.86 47.63h.6v.6h-.6zM233.32 54.99h.6v.6h-.6zM221 64.34h.6v.6h-.6zM231.06 49.41h.6v.6h-.6zM227.34 51.27h.6v.6h-.6zM231.17 53.62h.6v.6h-.6zM224.89 58.38h.6v.6h-.6zM218.78 59.91h.6v.6h-.6zM227.91 53.88h.6v.6h-.6zM230.27 52.87h.6v.6h-.6zM228.95 63.04h.6v.6h-.6zM223.89 63.19h.6v.6h-.6zM234.56 47.65h.6v.6h-.6zM224.03 58.35h.6v.6h-.6zM226.65 51.6h.6v.6h-.6zM219.83 62.26h.6v.6h-.6zM227.49 46.98h.6v.6h-.6zM225.27 64.44h.6v.6h-.6zM233.36 44.74h.6v.6h-.6zM226.1 59.03h.6v.6h-.6zM228.28 45.19h.6v.6h-.6zM227.28 56.58h.6v.6h-.6zM221.97 55.63h.6v.6h-.6zM218.62 60.27h.6v.6h-.6zM231.36 46.02h.6v.6h-.6zM235.4 49.41h.6v.6h-.6zM230.19 48.76h.6v.6h-.6zM229.39 44.65h.6v.6h-.6zM232.27 53.9h.6v.6h-.6zM227.57 56.25h.6v.6h-.6zM223.81 59.7h.6v.6h-.6zM231.51 50.87h.6v.6h-.6zM217.58 56.4h.6v.6h-.6zM234.26 50.47h.6v.6h-.6zM228.78 59.16h.6v.6h-.6zM226.4 56.32h.6v.6h-.6zM228.2 42.37h.6v.6h-.6zM228.73 58.7h.6v.6h-.6zM237.36 27.86h.6v.6h-.6zM234.06 54.47h.6v.6h-.6zM226.53 59.63h.6v.6h-.6zM232.32 50.32h.6v.6h-.6zM236.71 39.73h.6v.6h-.6zM237.16 55.37h.6v.6h-.6zM228.76 51.56h.6v.6h-.6zM237.18 43.2h.6v.6h-.6zM225.95 38.98h.6v.6h-.6zM235.95 35.66h.6v.6h-.6zM232.54 41.56h.6v.6h-.6zM233.85 54.87h.6v.6h-.6zM235.44 47.54h.6v.6h-.6zM236.66 38.74h.6v.6h-.6zM233.63 54.55h.6v.6h-.6zM229.65 53.02h.6v.6h-.6zM230.42 31.78h.6v.6h-.6zM235.96 39.2h.6v.6h-.6zM238.06 38.39h.6v.6h-.6zM228.45 51.09h.6v.6h-.6zM227.35 53.6h.6v.6h-.6zM229.35 46.77h.6v.6h-.6zM231.11 44.22h.6v.6h-.6zM238.31 52.88h.6v.6h-.6zM236.81 36.53h.6v.6h-.6zM235.98 44.98h.6v.6h-.6zM234.68 42.16h.6v.6h-.6zM236.25 47.12h.6v.6h-.6zM229.4 57.54h.6v.6h-.6zM231.18 52.23h.6v.6h-.6zM230.28 43.37h.6v.6h-.6zM229.8 47.39h.6v.6h-.6zM228.31 53.25h.6v.6h-.6zM229.49 34.6h.6v.6h-.6zM237.06 51.98h.6v.6h-.6zM233.15 53.48h.6v.6h-.6zM226.83 37.53h.6v.6h-.6zM238.23 39.87h.6v.6h-.6zM231.25 51.32h.6v.6h-.6zM233.63 52.41h.6v.6h-.6zM236.04 44.35h.6v.6h-.6zM233.77 51.68h.6v.6h-.6zM232 31.67h.6v.6h-.6zM226.22 53.13h.6v.6h-.6zM232.31 49.56h.6v.6h-.6zM228.05 55.14h.6v.6h-.6zM226.96 57.34h.6v.6h-.6zM229.93 49.84h.6v.6h-.6zM228.92 45.28h.6v.6h-.6zM238.52 45.41h.6v.6h-.6zM230.06 32.5h.6v.6h-.6zM225.61 55.04h.6v.6h-.6zM229.5 59.27h.6v.6h-.6zM225.99 48.01h.6v.6h-.6zM236.41 27.19h.6v.6h-.6zM226.2 52.47h.6v.6h-.6zM225.06 60.56h.6v.6h-.6zM230.1 56.97h.6v.6h-.6zM229.33 37.47h.6v.6h-.6zM237.96 29.6h.6v.6h-.6zM229.33 50.49h.6v.6h-.6zM238.53 36.15h.6v.6h-.6zM234.29 39.84h.6v.6h-.6zM227.22 59.29h.6v.6h-.6zM234.15 52.99h.6v.6h-.6zM238.92 43.48h.6v.6h-.6zM233.43 43.86h.6v.6h-.6zM229.06 66.28h.6v.6h-.6zM231.72 38.07h.6v.6h-.6zM235.95 33.88h.6v.6h-.6zM234.67 45.03h.6v.6h-.6zM226.77 54.2h.6v.6h-.6zM231.75 29.55h.6v.6h-.6zM238.82 37.71h.6v.6h-.6zM227.61 54.75h.6v.6h-.6zM230.64 47.97h.6v.6h-.6zM238.1 46.17h.6v.6h-.6zM234.59 31.54h.6v.6h-.6zM230.68 32.82h.6v.6h-.6zM228 47.05h.6v.6h-.6zM234.37 49.74h.6v.6h-.6zM228.57 51.97h.6v.6h-.6zM228.64 52.37h.6v.6h-.6zM228.53 38.19h.6v.6h-.6zM236.15 49.5h.6v.6h-.6zM226.55 46.43h.6v.6h-.6zM238.23 34.12h.6v.6h-.6zM225.7 53.06h.6v.6h-.6zM237.92 39.41h.6v.6h-.6zM237.96 38.5h.6v.6h-.6zM230.88 52.57h.6v.6h-.6zM238.18 44.68h.6v.6h-.6zM229.06 39.38h.6v.6h-.6zM238.24 42.22h.6v.6h-.6zM227.67 41.42h.6v.6h-.6zM233.26 54.76h.6v.6h-.6zM238.32 27.24h.6v.6h-.6zM223.28 53.38h.6v.6h-.6zM235.76 46.91h.6v.6h-.6zM231.9 45.61h.6v.6h-.6zM227.8 52.47h.6v.6h-.6zM238.25 37.92h.6v.6h-.6zM231.14 49.64h.6v.6h-.6zM229.05 53.93h.6v.6h-.6zM233.3 48.08h.6v.6h-.6zM232.85 49.65h.6v.6h-.6zM232.86 39.16h.6v.6h-.6zM224.73 48.08h.6v.6h-.6zM227.49 52.9h.6v.6h-.6zM235.7 49.79h.6v.6h-.6zM232.19 40.15h.6v.6h-.6zM223.62 55.12h.6v.6h-.6zM233.02 44.09h.6v.6h-.6z"/>
<polygon points="221.2,68.13 227.68,59.97 235.48,49.92 235,48 233.19,47.09 232.1,47.54 224.73,57.9 219.13,66.68" fill="#111"/>
<rect x="213.3" y="26.2" width="26.5" height="41.3" fill="none" stroke="#333" stroke-width="1.25"/>
<rect x="240.3" y="32.2" width="15.2" height="19.8" fill="none" stroke="#333" stroke-width="1.0"/>
<text x="215.8" y="35.8" font-size="6.8" font-weight="normal" text-anchor="start" fill="#222">R2</text>
<text x="245.3" y="48.8" font-size="7.4" font-weight="normal" text-anchor="start" fill="#222">R1</text>
<text x="213.3" y="72.4" font-size="3.3" font-weight="normal" text-anchor="middle" fill="#444">0</text>
<text x="210.6" y="67.8" font-size="3.3" font-weight="normal" text-anchor="middle" fill="#444" transform="rotate(-90 210.6 67.8)">0</text>
<text x="222.34" y="72.4" font-size="3.3" font-weight="normal" text-anchor="middle" fill="#444">200</text>
<text x="210.6" y="59.59" font-size="3.3" font-weight="normal" text-anchor="middle" fill="#444" transform="rotate(-90 210.6 59.59)">200</text>
<text x="231.38" y="72.4" font-size="3.3" font-weight="normal" text-anchor="middle" fill="#444">400</text>
<text x="210.6" y="51.39" font-size="3.3" font-weight="normal" text-anchor="middle" fill="#444" transform="rotate(-90 210.6 51.39)">400</text>
<text x="240.42" y="72.4" font-size="3.3" font-weight="normal" text-anchor="middle" fill="#444">600</text>
<text x="210.6" y="43.18" font-size="3.3" font-weight="normal" text-anchor="middle" fill="#444" transform="rotate(-90 210.6 43.18)">600</text>
<text x="249.46" y="72.4" font-size="3.3" font-weight="normal" text-anchor="middle" fill="#444">800</text>
<text x="210.6" y="34.98" font-size="3.3" font-weight="normal" text-anchor="middle" fill="#444" transform="rotate(-90 210.6 34.98)">800</text>
<text x="258.5" y="72.4" font-size="3.3" font-weight="normal" text-anchor="middle" fill="#444">1000</text>
<text x="210.6" y="26.77" font-size="3.3" font-weight="normal" text-anchor="middle" fill="#444" transform="rotate(-90 210.6 26.77)">1000</text>
<text x="238.43" y="76.2" font-size="3.3" font-weight="normal" text-anchor="middle" fill="#444">FL2-A</text>
<text x="206.2" y="48.65" font-size="3.3" font-weight="normal" text-anchor="middle" fill="#444" transform="rotate(-90 206.2 48.65)">FL2-W</text>
<rect x="338.3" y="25.5" width="46.8" height="42.3" fill="#fff" stroke="#777" stroke-width="0.7"/>
<path fill="#666" d="M348.83 49.94h.6v.6h-.6zM375.91 38.89h.6v.6h-.6zM370.24 45.27h.6v.6h-.6zM378.67 49.13h.6v.6h-.6zM382.82 36.79h.6v.6h-.6zM346.76 40.73h.6v.6h-.6zM374.09 48.17h.6v.6h-.6zM380.01 65.58h.6v.6h-.6zM379.93 33.72h.6v.6h-.6zM366.37 55.29h.6v.6h-.6zM379.79 33.11h.6v.6h-.6zM367.29 29.57h.6v.6h-.6zM372.62 49.44h.6v.6h-.6zM347.47 31.85h.6v.6h-.6zM363.7 46.42h.6v.6h-.6zM364.26 64.92h.6v.6h-.6zM382.23 38.82h.6v.6h-.6zM345.35 38.68h.6v.6h-.6zM375.49 37.61h.6v.6h-.6zM348.1 50.63h.6v.6h-.6zM370.49 34.16h.6v.6h-.6zM344.67 33.77h.6v.6h-.6zM351.94 41.34h.6v.6h-.6zM365.25 62.48h.6v.6h-.6zM356.55 51.79h.6v.6h-.6zM369.35 38.33h.6v.6h-.6zM364.91 65.14h.6v.6h-.6zM382.97 43.76h.6v.6h-.6zM375.93 40.3h.6v.6h-.6zM375.07 41.97h.6v.6h-.6zM374.08 30.5h.6v.6h-.6zM350.47 51.57h.6v.6h-.6zM351.19 38.93h.6v.6h-.6zM369.87 38.8h.6v.6h-.6zM355.3 58.91h.6v.6h-.6zM347.1 28.99h.6v.6h-.6zM376.18 62.02h.6v.6h-.6zM369.91 51.51h.6v.6h-.6zM378.66 47.83h.6v.6h-.6zM346.98 41.89h.6v.6h-.6zM360.28 60.08h.6v.6h-.6zM367.23 29.99h.6v.6h-.6zM369.19 59.72h.6v.6h-.6zM345.69 62.66h.6v.6h-.6zM344.91 54.02h.6v.6h-.6zM357.26 46.78h.6v.6h-.6zM349.46 34.13h.6v.6h-.6zM353.88 58.06h.6v.6h-.6zM376.42 57.81h.6v.6h-.6zM356.04 40.54h.6v.6h-.6zM360.51 33.49h.6v.6h-.6zM358.09 48.48h.6v.6h-.6zM354.28 33.87h.6v.6h-.6zM345.89 44.88h.6v.6h-.6zM363.91 39.23h.6v.6h-.6zM342.64 45.57h.6v.6h-.6zM381.22 49.69h.6v.6h-.6zM361.84 44.89h.6v.6h-.6zM355.79 50.2h.6v.6h-.6zM350.13 61.68h.6v.6h-.6zM360.81 53.01h.6v.6h-.6zM344.89 41.53h.6v.6h-.6zM348.46 34.62h.6v.6h-.6zM368.43 52.72h.6v.6h-.6zM368.13 40.03h.6v.6h-.6zM377.18 57.34h.6v.6h-.6zM366.65 41.87h.6v.6h-.6zM372.41 37.7h.6v.6h-.6zM351.86 28.62h.6v.6h-.6zM372.59 33.66h.6v.6h-.6zM355.16 54.18h.6v.6h-.6zM357.02 39.51h.6v.6h-.6zM358.27 51.86h.6v.6h-.6zM353.77 55.55h.6v.6h-.6zM348.71 56.91h.6v.6h-.6zM346.54 59.39h.6v.6h-.6zM353.25 57.86h.6v.6h-.6zM353.73 47.98h.6v.6h-.6zM355.38 53.99h.6v.6h-.6zM357.93 47.56h.6v.6h-.6zM356.42 51.28h.6v.6h-.6zM356.57 45.43h.6v.6h-.6zM342.78 64.06h.6v.6h-.6zM360.57 49.25h.6v.6h-.6zM345 63.79h.6v.6h-.6zM354.97 48.85h.6v.6h-.6zM356.76 49.86h.6v.6h-.6zM352.65 52.48h.6v.6h-.6zM351.58 56.29h.6v.6h-.6zM353.53 54.05h.6v.6h-.6zM346.92 59.19h.6v.6h-.6zM360.34 45.15h.6v.6h-.6zM353.74 56.88h.6v.6h-.6zM346.07 49.37h.6v.6h-.6zM352.15 57.28h.6v.6h-.6zM357.51 45.46h.6v.6h-.6zM360.34 46.25h.6v.6h-.6zM350.07 55.68h.6v.6h-.6zM349.02 59.79h.6v.6h-.6zM363.09 45.07h.6v.6h-.6zM354.41 47.96h.6v.6h-.6zM357.81 46.42h.6v.6h-.6zM355.56 49.16h.6v.6h-.6zM352.1 46.58h.6v.6h-.6zM356.67 55.87h.6v.6h-.6zM357.85 45h.6v.6h-.6zM345.92 58.83h.6v.6h-.6zM353.87 52.52h.6v.6h-.6zM357.47 55.39h.6v.6h-.6zM356.95 49.88h.6v.6h-.6zM355.56 59.85h.6v.6h-.6zM357.83 51.42h.6v.6h-.6zM352.64 57.42h.6v.6h-.6zM353.13 55.91h.6v.6h-.6zM345.62 57.79h.6v.6h-.6zM357.27 52.9h.6v.6h-.6zM354.28 54.88h.6v.6h-.6zM345.61 64.94h.6v.6h-.6zM357.09 54.84h.6v.6h-.6zM356.7 50.94h.6v.6h-.6zM355.27 47.38h.6v.6h-.6zM353.32 52.88h.6v.6h-.6zM345 60.69h.6v.6h-.6zM356.96 44.52h.6v.6h-.6zM355.13 54.41h.6v.6h-.6zM345.51 59.29h.6v.6h-.6zM351.29 51.13h.6v.6h-.6zM356.25 50.29h.6v.6h-.6zM351.89 50.82h.6v.6h-.6zM358.89 49.3h.6v.6h-.6zM351.34 51.41h.6v.6h-.6zM359.18 44.38h.6v.6h-.6zM353.75 48.36h.6v.6h-.6zM359.01 45.25h.6v.6h-.6zM346.04 58.73h.6v.6h-.6zM355.72 51.59h.6v.6h-.6zM355.85 53.88h.6v.6h-.6zM347.82 57.83h.6v.6h-.6zM348.82 59.99h.6v.6h-.6zM354.26 60.5h.6v.6h-.6zM358.18 46.85h.6v.6h-.6zM349.38 55.75h.6v.6h-.6zM363.86 55.69h.6v.6h-.6zM359.35 49.07h.6v.6h-.6zM352.87 57.24h.6v.6h-.6zM356.15 48.67h.6v.6h-.6zM360.06 47.61h.6v.6h-.6zM355.17 55.22h.6v.6h-.6zM353.14 53.68h.6v.6h-.6zM351.68 54.94h.6v.6h-.6zM360.77 50.02h.6v.6h-.6zM357.55 46.17h.6v.6h-.6zM357.45 48.27h.6v.6h-.6zM349.28 61.39h.6v.6h-.6zM350.63 61.79h.6v.6h-.6zM354.54 57.98h.6v.6h-.6zM344.71 60.83h.6v.6h-.6zM345.7 53.75h.6v.6h-.6zM360.76 44.11h.6v.6h-.6zM355.47 51.44h.6v.6h-.6zM354.38 55.32h.6v.6h-.6zM351.76 56.87h.6v.6h-.6zM352.47 61.06h.6v.6h-.6zM351.81 62.06h.6v.6h-.6zM346.21 62.77h.6v.6h-.6zM347.42 61.19h.6v.6h-.6zM353.84 57.4h.6v.6h-.6zM352.98 62.56h.6v.6h-.6zM348.5 55.29h.6v.6h-.6zM359.89 38.35h.6v.6h-.6zM360.75 46.82h.6v.6h-.6zM351.15 55.51h.6v.6h-.6zM351.53 55.16h.6v.6h-.6zM353.32 50.53h.6v.6h-.6zM351.57 59.34h.6v.6h-.6zM353.47 53.53h.6v.6h-.6zM354.43 46.69h.6v.6h-.6zM360.25 39.4h.6v.6h-.6zM351.92 48.38h.6v.6h-.6zM358.12 52.43h.6v.6h-.6zM363.57 44.46h.6v.6h-.6zM355.09 54.24h.6v.6h-.6zM354.79 33.09h.6v.6h-.6zM354.06 47.04h.6v.6h-.6zM359.58 58.15h.6v.6h-.6zM356.66 42.17h.6v.6h-.6zM359.28 50.98h.6v.6h-.6zM360.93 38.03h.6v.6h-.6zM362.76 46.78h.6v.6h-.6zM352.35 54.36h.6v.6h-.6zM357.05 57.42h.6v.6h-.6zM360.01 42.86h.6v.6h-.6zM355.63 46.99h.6v.6h-.6zM354.25 31.66h.6v.6h-.6zM356.41 48.81h.6v.6h-.6zM360.92 44.66h.6v.6h-.6zM358.51 52.69h.6v.6h-.6zM361.18 48.14h.6v.6h-.6zM359.88 47.82h.6v.6h-.6zM362.11 43.16h.6v.6h-.6zM363.82 36.35h.6v.6h-.6zM357.06 41.04h.6v.6h-.6zM357.04 51.31h.6v.6h-.6zM361.05 45h.6v.6h-.6zM362.51 36.71h.6v.6h-.6zM353.65 55.65h.6v.6h-.6zM360.19 50.57h.6v.6h-.6zM356.68 43.4h.6v.6h-.6zM352.05 53.63h.6v.6h-.6zM356.8 50.21h.6v.6h-.6zM358.54 45.29h.6v.6h-.6zM360.55 38.01h.6v.6h-.6zM355.22 56.68h.6v.6h-.6zM356.37 45.3h.6v.6h-.6zM355.55 43.53h.6v.6h-.6zM353.23 48.14h.6v.6h-.6zM363.4 47.24h.6v.6h-.6zM358.79 39.67h.6v.6h-.6zM351.83 34.9h.6v.6h-.6zM355.3 36.56h.6v.6h-.6zM358.34 39.37h.6v.6h-.6zM353.73 52.42h.6v.6h-.6zM359.58 32.72h.6v.6h-.6zM355.6 53.25h.6v.6h-.6zM357.67 49.1h.6v.6h-.6zM361.55 36.75h.6v.6h-.6zM354.78 29.95h.6v.6h-.6zM361.95 44.2h.6v.6h-.6zM362.83 45.3h.6v.6h-.6zM359.92 56.65h.6v.6h-.6zM353.14 51.68h.6v.6h-.6zM360.55 39.4h.6v.6h-.6zM363.87 37.82h.6v.6h-.6zM362.47 32.13h.6v.6h-.6zM360.89 44.98h.6v.6h-.6zM359.6 52.24h.6v.6h-.6zM357.22 57.86h.6v.6h-.6zM363.98 38.63h.6v.6h-.6zM353.65 42.77h.6v.6h-.6zM363.22 33.05h.6v.6h-.6zM359.08 35.77h.6v.6h-.6zM352.89 59.96h.6v.6h-.6zM361.22 42.05h.6v.6h-.6zM359.12 27.04h.6v.6h-.6zM357.61 42.87h.6v.6h-.6zM353.98 47.33h.6v.6h-.6zM358.11 42.36h.6v.6h-.6zM356.18 51.61h.6v.6h-.6zM364.32 38.36h.6v.6h-.6zM362.67 45.53h.6v.6h-.6zM357.2 44.44h.6v.6h-.6zM363.79 30.07h.6v.6h-.6zM359.11 45.65h.6v.6h-.6zM355.73 47.86h.6v.6h-.6zM355.61 49.29h.6v.6h-.6zM356.82 55.67h.6v.6h-.6zM355.45 29.88h.6v.6h-.6zM351.26 53.87h.6v.6h-.6zM359.08 61.28h.6v.6h-.6zM359.14 57.28h.6v.6h-.6zM357.99 45.87h.6v.6h-.6zM363.25 36.01h.6v.6h-.6zM355.72 42.08h.6v.6h-.6zM354.16 56.28h.6v.6h-.6zM362.79 40.48h.6v.6h-.6zM353.21 35.43h.6v.6h-.6zM357.17 58.06h.6v.6h-.6zM355.42 50.57h.6v.6h-.6zM362.09 49.5h.6v.6h-.6zM357.73 49.74h.6v.6h-.6zM360.69 35.28h.6v.6h-.6zM355.16 51.73h.6v.6h-.6zM364.22 28.37h.6v.6h-.6zM354.78 48.75h.6v.6h-.6zM360.69 40.89h.6v.6h-.6zM354.32 56.06h.6v.6h-.6zM357.24 50.92h.6v.6h-.6zM352.79 54.96h.6v.6h-.6zM361.78 48.19h.6v.6h-.6zM362.2 32.48h.6v.6h-.6zM360.02 39.59h.6v.6h-.6zM348.44 49.31h.6v.6h-.6zM352.38 49.86h.6v.6h-.6zM364.23 32.77h.6v.6h-.6zM359.74 46.02h.6v.6h-.6zM358.41 56.19h.6v.6h-.6zM358.18 50.64h.6v.6h-.6zM357.47 48.81h.6v.6h-.6zM360.26 34.81h.6v.6h-.6zM353.78 54.13h.6v.6h-.6zM358.64 51.06h.6v.6h-.6zM357.88 52.34h.6v.6h-.6zM357.37 43.53h.6v.6h-.6zM351.09 57.57h.6v.6h-.6zM363.07 46.74h.6v.6h-.6zM358.96 32.46h.6v.6h-.6z"/>
<polygon points="346.81,68.11 353.61,59.04 361.81,47.88 361.29,45.97 359.46,45.1 358.37,45.58 350.62,57.04 344.71,66.7" fill="#111"/>
<path fill="#444" d="M369.66 41.86h.7v.7h-.7zM372.58 40.09h.7v.7h-.7zM368.07 41.59h.7v.7h-.7zM370.13 41.27h.7v.7h-.7zM359.15 47.84h.7v.7h-.7zM369.85 42.45h.7v.7h-.7zM366.1 43.77h.7v.7h-.7zM359.79 45.28h.7v.7h-.7zM359.15 47.83h.7v.7h-.7zM365.65 44.21h.7v.7h-.7zM369.63 43.61h.7v.7h-.7zM371.4 40.06h.7v.7h-.7zM362.02 44.48h.7v.7h-.7zM372.69 40.39h.7v.7h-.7zM370.33 42.03h.7v.7h-.7zM367.74 43.05h.7v.7h-.7zM367.95 42.11h.7v.7h-.7zM365.54 44.75h.7v.7h-.7zM370.15 41.16h.7v.7h-.7zM360.84 47.13h.7v.7h-.7zM369.92 41.92h.7v.7h-.7zM361.18 47.01h.7v.7h-.7zM363.83 41.43h.7v.7h-.7zM369.73 42.22h.7v.7h-.7zM366.79 43.97h.7v.7h-.7zM363.92 43.34h.7v.7h-.7zM360.68 44.62h.7v.7h-.7zM363.63 45.11h.7v.7h-.7zM366.96 43.04h.7v.7h-.7zM363.3 44.43h.7v.7h-.7zM372.36 40.52h.7v.7h-.7zM374.67 36.82h.7v.7h-.7zM371.43 40.62h.7v.7h-.7zM371.58 39.61h.7v.7h-.7zM375.31 40.9h.7v.7h-.7zM374.8 42.38h.7v.7h-.7zM374.86 40.49h.7v.7h-.7zM375.56 38.64h.7v.7h-.7zM372.22 41.29h.7v.7h-.7zM371.84 40.22h.7v.7h-.7zM372.38 42.28h.7v.7h-.7zM374.12 42.4h.7v.7h-.7zM372.42 36.14h.7v.7h-.7zM375.09 43.54h.7v.7h-.7zM371.9 37.6h.7v.7h-.7zM370.33 42.52h.7v.7h-.7zM371.18 40.46h.7v.7h-.7zM373.53 38.64h.7v.7h-.7zM372.77 38.83h.7v.7h-.7zM374.37 42.93h.7v.7h-.7zM375.22 36.67h.7v.7h-.7zM371.08 38.74h.7v.7h-.7zM373.7 41.42h.7v.7h-.7zM369.72 40.06h.7v.7h-.7zM374.43 39.87h.7v.7h-.7zM372.88 35.82h.7v.7h-.7zM375.41 40.93h.7v.7h-.7zM372.48 38.75h.7v.7h-.7zM374.4 42.58h.7v.7h-.7zM372.76 36.92h.7v.7h-.7zM373.91 38.3h.7v.7h-.7zM372.88 39.24h.7v.7h-.7zM371.34 42.68h.7v.7h-.7zM371.14 42.94h.7v.7h-.7zM371.74 39.39h.7v.7h-.7zM373.12 40.82h.7v.7h-.7zM371.55 43.93h.7v.7h-.7zM372.92 43.62h.7v.7h-.7zM374.61 40.04h.7v.7h-.7zM372.09 41.11h.7v.7h-.7z"/>
<ellipse cx="373.2" cy="40" rx="1.1" ry="3" fill="#333" transform="rotate(35 373.2 40)"/>
<rect x="338.8" y="26.2" width="26.4" height="41.3" fill="none" stroke="#555" stroke-width="1.1"/>
<rect x="365.8" y="32.2" width="15.2" height="19.8" fill="none" stroke="#333" stroke-width="1.0"/>
<text x="341.3" y="35.8" font-size="6.8" font-weight="normal" text-anchor="start" fill="#222">R2</text>
<text x="370.8" y="48.8" font-size="7.4" font-weight="normal" text-anchor="start" fill="#222">R1</text>
<text x="338.8" y="72.4" font-size="3.3" font-weight="normal" text-anchor="middle" fill="#444">0</text>
<text x="336.1" y="67.8" font-size="3.3" font-weight="normal" text-anchor="middle" fill="#444" transform="rotate(-90 336.1 67.8)">0</text>
<text x="347.88" y="72.4" font-size="3.3" font-weight="normal" text-anchor="middle" fill="#444">200</text>
<text x="336.1" y="59.59" font-size="3.3" font-weight="normal" text-anchor="middle" fill="#444" transform="rotate(-90 336.1 59.59)">200</text>
<text x="356.96" y="72.4" font-size="3.3" font-weight="normal" text-anchor="middle" fill="#444">400</text>
<text x="336.1" y="51.39" font-size="3.3" font-weight="normal" text-anchor="middle" fill="#444" transform="rotate(-90 336.1 51.39)">400</text>
<text x="366.04" y="72.4" font-size="3.3" font-weight="normal" text-anchor="middle" fill="#444">600</text>
<text x="336.1" y="43.18" font-size="3.3" font-weight="normal" text-anchor="middle" fill="#444" transform="rotate(-90 336.1 43.18)">600</text>
<text x="375.12" y="72.4" font-size="3.3" font-weight="normal" text-anchor="middle" fill="#444">800</text>
<text x="336.1" y="34.98" font-size="3.3" font-weight="normal" text-anchor="middle" fill="#444" transform="rotate(-90 336.1 34.98)">800</text>
<text x="384.2" y="72.4" font-size="3.3" font-weight="normal" text-anchor="middle" fill="#444">1000</text>
<text x="336.1" y="26.77" font-size="3.3" font-weight="normal" text-anchor="middle" fill="#444" transform="rotate(-90 336.1 26.77)">1000</text>
<text x="364.04" y="76.2" font-size="3.3" font-weight="normal" text-anchor="middle" fill="#444">FL2-A</text>
<text x="331.7" y="48.65" font-size="3.3" font-weight="normal" text-anchor="middle" fill="#444" transform="rotate(-90 331.7 48.65)">FL2-W</text>
<rect x="463.2" y="25.5" width="46.2" height="42.3" fill="#fff" stroke="#777" stroke-width="0.7"/>
<path fill="#666" d="M479.77 36.09h.6v.6h-.6zM474.52 60.44h.6v.6h-.6zM501.67 31.47h.6v.6h-.6zM478.82 52.84h.6v.6h-.6zM495.39 44.3h.6v.6h-.6zM486.55 55.84h.6v.6h-.6zM484.85 64.26h.6v.6h-.6zM479.64 31.78h.6v.6h-.6zM477.38 29.64h.6v.6h-.6zM504.27 52.35h.6v.6h-.6zM475.09 28.91h.6v.6h-.6zM501.24 41.71h.6v.6h-.6zM475.61 43.07h.6v.6h-.6zM473.75 30.24h.6v.6h-.6zM468.08 27.83h.6v.6h-.6zM492.05 40.14h.6v.6h-.6zM477.52 45.09h.6v.6h-.6zM492.54 36.76h.6v.6h-.6zM472.36 53.18h.6v.6h-.6zM478.46 59.92h.6v.6h-.6zM487.75 65.14h.6v.6h-.6zM474.49 32.32h.6v.6h-.6zM473.57 64.91h.6v.6h-.6zM494.61 50.39h.6v.6h-.6zM480.95 33.28h.6v.6h-.6zM467.99 58.2h.6v.6h-.6zM485.96 65.38h.6v.6h-.6zM467.82 60.21h.6v.6h-.6zM473.81 65.31h.6v.6h-.6zM473.28 36.18h.6v.6h-.6zM485.88 47.4h.6v.6h-.6zM473.79 55.24h.6v.6h-.6zM503.68 30.51h.6v.6h-.6zM474.15 56.89h.6v.6h-.6zM469.62 53.51h.6v.6h-.6zM496.91 61.86h.6v.6h-.6zM488.93 41.68h.6v.6h-.6zM470.94 37.78h.6v.6h-.6zM473.34 47.22h.6v.6h-.6zM468.25 56.5h.6v.6h-.6zM507.03 33.08h.6v.6h-.6zM493.42 61.76h.6v.6h-.6zM476.15 62.38h.6v.6h-.6zM496.36 56.49h.6v.6h-.6zM477.45 54.46h.6v.6h-.6zM499.09 61.85h.6v.6h-.6zM489.91 31.27h.6v.6h-.6zM493.09 42.84h.6v.6h-.6zM502.57 40.83h.6v.6h-.6zM491.63 48.26h.6v.6h-.6zM472.34 55.51h.6v.6h-.6zM485.48 47.77h.6v.6h-.6zM484.47 28.61h.6v.6h-.6zM471.85 47.04h.6v.6h-.6zM483.83 43.49h.6v.6h-.6zM475.93 49.43h.6v.6h-.6zM484.95 47.03h.6v.6h-.6zM491.99 64.93h.6v.6h-.6zM496.03 51.25h.6v.6h-.6zM495.3 37.77h.6v.6h-.6zM497.64 37.2h.6v.6h-.6zM494.09 36.01h.6v.6h-.6zM499.5 40.88h.6v.6h-.6zM504 58.07h.6v.6h-.6zM505 56.83h.6v.6h-.6zM481.81 34.77h.6v.6h-.6zM503.48 29.48h.6v.6h-.6zM505.74 33.66h.6v.6h-.6zM491.03 47.19h.6v.6h-.6zM495.02 33.08h.6v.6h-.6zM475.36 54.46h.6v.6h-.6zM479.45 53.11h.6v.6h-.6zM473.73 51.82h.6v.6h-.6zM487.13 47.17h.6v.6h-.6zM472.56 54.82h.6v.6h-.6zM482.9 49.53h.6v.6h-.6zM476.83 60.33h.6v.6h-.6zM478.92 53.27h.6v.6h-.6zM481.43 50.59h.6v.6h-.6zM475.15 59.12h.6v.6h-.6zM482.42 42.34h.6v.6h-.6zM480.64 45.1h.6v.6h-.6zM471.6 61.02h.6v.6h-.6zM473.28 57.48h.6v.6h-.6zM478.22 48.86h.6v.6h-.6zM478.91 47.7h.6v.6h-.6zM481.17 52.62h.6v.6h-.6zM487.82 48.32h.6v.6h-.6zM478.63 57.46h.6v.6h-.6zM474.94 55.46h.6v.6h-.6zM472.7 54.94h.6v.6h-.6zM483.61 39.84h.6v.6h-.6zM470.6 61.28h.6v.6h-.6zM479.6 55.15h.6v.6h-.6zM486.93 60.2h.6v.6h-.6zM484.76 43.95h.6v.6h-.6zM484.46 42.99h.6v.6h-.6zM478.52 61.64h.6v.6h-.6zM484.82 39.17h.6v.6h-.6zM472.7 58.36h.6v.6h-.6zM470.67 59.82h.6v.6h-.6zM480.66 50.36h.6v.6h-.6zM466.56 60.3h.6v.6h-.6zM479.36 53.52h.6v.6h-.6zM477.92 58.41h.6v.6h-.6zM477 62.65h.6v.6h-.6zM479.06 51.32h.6v.6h-.6zM473.45 62.33h.6v.6h-.6zM472.48 61.07h.6v.6h-.6zM468.82 62.4h.6v.6h-.6zM472.12 60.54h.6v.6h-.6zM479.5 58.12h.6v.6h-.6zM473.92 62.24h.6v.6h-.6zM471.14 55.21h.6v.6h-.6zM477.68 54.22h.6v.6h-.6zM477.58 53.94h.6v.6h-.6zM480.04 64.5h.6v.6h-.6zM483.46 53.96h.6v.6h-.6zM485.11 46.75h.6v.6h-.6zM476.76 59.01h.6v.6h-.6zM472.7 64.82h.6v.6h-.6zM479.64 51.63h.6v.6h-.6zM473.73 59.57h.6v.6h-.6zM473.97 44.43h.6v.6h-.6zM467.4 61.94h.6v.6h-.6zM471.72 63.85h.6v.6h-.6zM472.93 63.32h.6v.6h-.6zM475.24 57.98h.6v.6h-.6zM472.35 60.51h.6v.6h-.6zM480.67 48.95h.6v.6h-.6zM475.98 53.23h.6v.6h-.6zM478.92 50.36h.6v.6h-.6zM478.39 52.64h.6v.6h-.6zM477.4 55.97h.6v.6h-.6zM489.08 43.44h.6v.6h-.6zM480.05 58.52h.6v.6h-.6zM473.77 59.85h.6v.6h-.6zM470.07 61.89h.6v.6h-.6zM476.6 58.93h.6v.6h-.6zM474.02 54.73h.6v.6h-.6zM468.56 60.84h.6v.6h-.6zM474.04 58.16h.6v.6h-.6zM473.58 64.58h.6v.6h-.6zM476.71 53.71h.6v.6h-.6zM474.48 46.12h.6v.6h-.6zM480.66 55.35h.6v.6h-.6zM483.81 56.65h.6v.6h-.6zM474.61 61.63h.6v.6h-.6zM481.95 49.98h.6v.6h-.6zM480.36 50.09h.6v.6h-.6zM486.83 46.87h.6v.6h-.6zM481.87 44.35h.6v.6h-.6zM471.14 60.76h.6v.6h-.6zM473.13 61.2h.6v.6h-.6zM478.35 55.09h.6v.6h-.6zM475.83 49.75h.6v.6h-.6zM481.52 48.31h.6v.6h-.6zM479.19 56.24h.6v.6h-.6zM486.11 44.91h.6v.6h-.6zM470.53 66.57h.6v.6h-.6zM471.93 64.27h.6v.6h-.6zM479.88 53.62h.6v.6h-.6zM472.64 50.29h.6v.6h-.6zM475.88 52.17h.6v.6h-.6zM482.86 45.29h.6v.6h-.6zM475.71 61.12h.6v.6h-.6zM471.98 56.29h.6v.6h-.6zM475.98 58.28h.6v.6h-.6zM486.69 44.65h.6v.6h-.6zM484.23 37.11h.6v.6h-.6zM476.73 50.38h.6v.6h-.6zM490.68 44.46h.6v.6h-.6zM479.75 51.97h.6v.6h-.6zM475.73 55.34h.6v.6h-.6zM481 42.09h.6v.6h-.6zM478.88 52.06h.6v.6h-.6zM469.36 61.27h.6v.6h-.6zM469.33 65.53h.6v.6h-.6zM487.61 39.77h.6v.6h-.6zM485.7 36.89h.6v.6h-.6zM474.16 53.57h.6v.6h-.6zM488.53 45.78h.6v.6h-.6zM483.04 47.04h.6v.6h-.6zM488.28 38.01h.6v.6h-.6zM482.21 44.3h.6v.6h-.6zM477.72 60.21h.6v.6h-.6zM484.45 28.13h.6v.6h-.6zM482.47 47.14h.6v.6h-.6zM487.11 41.97h.6v.6h-.6zM480.6 50.49h.6v.6h-.6zM476.47 55.88h.6v.6h-.6zM485.84 39.33h.6v.6h-.6zM484.49 50.52h.6v.6h-.6zM481.12 61.4h.6v.6h-.6zM486 43.04h.6v.6h-.6zM479.52 45.86h.6v.6h-.6zM483.72 40.49h.6v.6h-.6zM485.63 43.1h.6v.6h-.6zM486.81 40.4h.6v.6h-.6zM483.02 52.29h.6v.6h-.6zM488.98 28.99h.6v.6h-.6zM488.02 48.75h.6v.6h-.6zM479.08 46.04h.6v.6h-.6zM483.14 38.57h.6v.6h-.6zM476.69 53.98h.6v.6h-.6zM485.43 46.01h.6v.6h-.6zM479.98 44.89h.6v.6h-.6zM479.46 55.19h.6v.6h-.6zM481.27 32.6h.6v.6h-.6zM483.42 49.36h.6v.6h-.6zM481.53 55.98h.6v.6h-.6zM477.97 41.77h.6v.6h-.6zM482.37 45.63h.6v.6h-.6zM482.41 29.63h.6v.6h-.6zM476.88 54.82h.6v.6h-.6zM487.25 27.35h.6v.6h-.6zM485.76 38.39h.6v.6h-.6zM477.87 37.3h.6v.6h-.6zM485.39 51.14h.6v.6h-.6zM481.56 49.26h.6v.6h-.6zM486.24 40.21h.6v.6h-.6zM488.49 33.65h.6v.6h-.6zM485.23 50.55h.6v.6h-.6zM488.67 43h.6v.6h-.6zM487.43 36.42h.6v.6h-.6zM487.95 51.33h.6v.6h-.6zM476.27 49.64h.6v.6h-.6zM477.41 32.23h.6v.6h-.6zM479.68 55.23h.6v.6h-.6zM482.53 31.37h.6v.6h-.6zM476.01 60.86h.6v.6h-.6zM486.22 48.69h.6v.6h-.6zM484.95 48.97h.6v.6h-.6zM478.41 47.98h.6v.6h-.6zM478.27 46.12h.6v.6h-.6zM487.67 46.15h.6v.6h-.6zM483.35 50.53h.6v.6h-.6zM486.73 38.93h.6v.6h-.6zM481.81 41.84h.6v.6h-.6zM485.6 39.28h.6v.6h-.6zM487.84 41.76h.6v.6h-.6zM487.87 29.76h.6v.6h-.6zM486.25 31.33h.6v.6h-.6zM480.24 49.95h.6v.6h-.6zM487.6 37.75h.6v.6h-.6zM479.55 47.95h.6v.6h-.6zM481.59 46.54h.6v.6h-.6zM484.04 51.41h.6v.6h-.6zM488.16 27.91h.6v.6h-.6zM486.79 47.95h.6v.6h-.6zM478.94 48.76h.6v.6h-.6zM485.39 41.57h.6v.6h-.6zM483.59 49.87h.6v.6h-.6zM483.66 41.3h.6v.6h-.6zM482.27 52.19h.6v.6h-.6zM483.49 50.95h.6v.6h-.6zM473.74 43.9h.6v.6h-.6zM481.35 49.68h.6v.6h-.6zM488.28 40.83h.6v.6h-.6zM481.25 46.32h.6v.6h-.6zM476.5 47.96h.6v.6h-.6zM477.54 46.53h.6v.6h-.6zM481.13 52.71h.6v.6h-.6zM477.28 55.77h.6v.6h-.6zM484.01 39.8h.6v.6h-.6zM483.31 43.46h.6v.6h-.6zM480.22 55.17h.6v.6h-.6zM476.62 60.61h.6v.6h-.6zM479.34 54.12h.6v.6h-.6zM477.83 55.18h.6v.6h-.6zM485.29 41.32h.6v.6h-.6zM478.85 55.03h.6v.6h-.6zM481.02 50.86h.6v.6h-.6zM486.48 45.65h.6v.6h-.6zM485.9 46.49h.6v.6h-.6zM488.37 30.29h.6v.6h-.6zM487.31 44.04h.6v.6h-.6zM484.83 42.61h.6v.6h-.6z"/>
<polygon points="471.21,68.12 478.54,58.42 487.4,46.5 486.89,44.58 485.07,43.7 483.98,44.16 475.57,56.39 469.12,66.69" fill="#111"/>
<path fill="#444" d="M492.8 40.49h.7v.7h-.7zM496.3 40.66h.7v.7h-.7zM495.58 42.09h.7v.7h-.7zM489.45 44.33h.7v.7h-.7zM490.91 42.77h.7v.7h-.7zM488.89 43.33h.7v.7h-.7zM485.99 44.53h.7v.7h-.7zM491.71 42.24h.7v.7h-.7zM492.84 40.7h.7v.7h-.7zM491.79 42.09h.7v.7h-.7zM494.1 40.62h.7v.7h-.7zM494.47 41.61h.7v.7h-.7zM489.47 44.21h.7v.7h-.7zM493.86 41.98h.7v.7h-.7zM486.97 42.16h.7v.7h-.7zM486.95 44.42h.7v.7h-.7zM491.27 41.87h.7v.7h-.7zM493.09 41.16h.7v.7h-.7zM487.3 44.31h.7v.7h-.7zM492.79 43.32h.7v.7h-.7zM493.59 43.5h.7v.7h-.7zM493.55 40.86h.7v.7h-.7zM494.81 42.26h.7v.7h-.7zM487.21 43.96h.7v.7h-.7zM490.29 41.89h.7v.7h-.7zM492.64 42.05h.7v.7h-.7zM492.43 42.09h.7v.7h-.7zM486.82 43.66h.7v.7h-.7zM487.29 46.32h.7v.7h-.7zM496.92 41.73h.7v.7h-.7zM494.44 39.54h.7v.7h-.7zM500.51 38h.7v.7h-.7zM499.6 39.31h.7v.7h-.7zM495.2 34.36h.7v.7h-.7zM496.33 36.79h.7v.7h-.7zM500.25 34.71h.7v.7h-.7zM498.93 39.11h.7v.7h-.7zM499 36.48h.7v.7h-.7zM497.84 37.64h.7v.7h-.7zM498.56 42.88h.7v.7h-.7zM498.26 39.75h.7v.7h-.7zM498.76 41.03h.7v.7h-.7zM496.35 34.94h.7v.7h-.7zM496.68 34.77h.7v.7h-.7zM496.03 45.13h.7v.7h-.7zM499.88 38.42h.7v.7h-.7zM497.98 43.26h.7v.7h-.7zM497.33 35.7h.7v.7h-.7zM494.7 42.75h.7v.7h-.7zM499.71 42.55h.7v.7h-.7zM498.32 40.47h.7v.7h-.7zM498 39.1h.7v.7h-.7zM498.05 40.95h.7v.7h-.7zM495.88 44.32h.7v.7h-.7zM498.55 41.97h.7v.7h-.7zM496.44 39.94h.7v.7h-.7zM497.01 37.46h.7v.7h-.7zM496.58 44.99h.7v.7h-.7zM498.19 41.56h.7v.7h-.7zM497.94 40.36h.7v.7h-.7zM496.54 41.12h.7v.7h-.7zM496.39 40.96h.7v.7h-.7zM495.51 38.35h.7v.7h-.7zM497.06 41.08h.7v.7h-.7zM495.89 40.4h.7v.7h-.7zM498.32 41.68h.7v.7h-.7zM497.87 40.39h.7v.7h-.7zM497.5 37.31h.7v.7h-.7zM498.33 38.85h.7v.7h-.7zM497.87 43.37h.7v.7h-.7z"/>
<ellipse cx="497.5" cy="39.8" rx="1.8" ry="3.3" fill="#333" transform="rotate(35 497.5 39.8)"/>
<rect x="463.7" y="26.2" width="26.1" height="41.3" fill="none" stroke="#555" stroke-width="1.1"/>
<rect x="490.7" y="32.2" width="15.2" height="19.8" fill="none" stroke="#333" stroke-width="1.0"/>
<text x="466.2" y="35.8" font-size="6.8" font-weight="normal" text-anchor="start" fill="#222">R2</text>
<text x="495.7" y="48.8" font-size="7.4" font-weight="normal" text-anchor="start" fill="#222">R1</text>
<text x="463.7" y="72.4" font-size="3.3" font-weight="normal" text-anchor="middle" fill="#444">0</text>
<text x="461" y="67.8" font-size="3.3" font-weight="normal" text-anchor="middle" fill="#444" transform="rotate(-90 461 67.8)">0</text>
<text x="472.66" y="72.4" font-size="3.3" font-weight="normal" text-anchor="middle" fill="#444">200</text>
<text x="461" y="59.59" font-size="3.3" font-weight="normal" text-anchor="middle" fill="#444" transform="rotate(-90 461 59.59)">200</text>
<text x="481.63" y="72.4" font-size="3.3" font-weight="normal" text-anchor="middle" fill="#444">400</text>
<text x="461" y="51.39" font-size="3.3" font-weight="normal" text-anchor="middle" fill="#444" transform="rotate(-90 461 51.39)">400</text>
<text x="490.59" y="72.4" font-size="3.3" font-weight="normal" text-anchor="middle" fill="#444">600</text>
<text x="461" y="43.18" font-size="3.3" font-weight="normal" text-anchor="middle" fill="#444" transform="rotate(-90 461 43.18)">600</text>
<text x="499.55" y="72.4" font-size="3.3" font-weight="normal" text-anchor="middle" fill="#444">800</text>
<text x="461" y="34.98" font-size="3.3" font-weight="normal" text-anchor="middle" fill="#444" transform="rotate(-90 461 34.98)">800</text>
<text x="508.51" y="72.4" font-size="3.3" font-weight="normal" text-anchor="middle" fill="#444">1000</text>
<text x="461" y="26.77" font-size="3.3" font-weight="normal" text-anchor="middle" fill="#444" transform="rotate(-90 461 26.77)">1000</text>
<text x="488.61" y="76.2" font-size="3.3" font-weight="normal" text-anchor="middle" fill="#444">FL2-A</text>
<text x="456.6" y="48.65" font-size="3.3" font-weight="normal" text-anchor="middle" fill="#444" transform="rotate(-90 456.6 48.65)">FL2-W</text>
<text x="42.15" y="72.3" font-size="8" font-weight="bold" text-anchor="start" fill="#000" textLength="22.8" lengthAdjust="spacingAndGlyphs">G0/G1</text>
<text x="84.95" y="86.6" font-size="8" font-weight="bold" text-anchor="start" fill="#000" textLength="6.1" lengthAdjust="spacingAndGlyphs">S</text>
<text x="99.65" y="94" font-size="8" font-weight="bold" text-anchor="start" fill="#000" textLength="19.7" lengthAdjust="spacingAndGlyphs">G2/M</text>
<path d="M63.8,79.9H76.9M63.8,76.3v7.2M76.9,76.3v7.2" stroke="#4a4a4a" stroke-width="1" fill="none"/>
<path d="M76.9,89.4H98.1M76.9,85.8v7.2M98.1,85.8v7.2" stroke="#4a4a4a" stroke-width="1" fill="none"/>
<path d="M98.1,100H116.4M98.1,96.4v7.2M116.4,96.4v7.2" stroke="#4a4a4a" stroke-width="1" fill="none"/>
<text x="163.15" y="72.3" font-size="8" font-weight="bold" text-anchor="start" fill="#000" textLength="23.1" lengthAdjust="spacingAndGlyphs">G0/G1</text>
<text x="203.35" y="86.5" font-size="8" font-weight="bold" text-anchor="start" fill="#000" textLength="5.8" lengthAdjust="spacingAndGlyphs">S</text>
<text x="220.85" y="93.5" font-size="8" font-weight="bold" text-anchor="start" fill="#000" textLength="19.6" lengthAdjust="spacingAndGlyphs">G2/M</text>
<path d="M186.1,77.6H197.6M186.1,74v7.2M197.6,74v7.2" stroke="#4a4a4a" stroke-width="1" fill="none"/>
<path d="M197.6,89.1H217.2M197.6,85.5v7.2M217.2,85.5v7.2" stroke="#4a4a4a" stroke-width="1" fill="none"/>
<path d="M217.2,99.2H237.6M217.2,95.6v7.2M237.6,95.6v7.2" stroke="#4a4a4a" stroke-width="1" fill="none"/>
<text x="289.45" y="64.5" font-size="8" font-weight="bold" text-anchor="start" fill="#000" textLength="23.2" lengthAdjust="spacingAndGlyphs">G0/G1</text>
<text x="330.35" y="86" font-size="8" font-weight="bold" text-anchor="start" fill="#000" textLength="6.6" lengthAdjust="spacingAndGlyphs">S</text>
<text x="346.65" y="92.3" font-size="8" font-weight="bold" text-anchor="start" fill="#000" textLength="19.7" lengthAdjust="spacingAndGlyphs">G2/M</text>
<path d="M312,76.4H324.2M312,72.8v7.2M324.2,72.8v7.2" stroke="#4a4a4a" stroke-width="1" fill="none"/>
<path d="M324.2,88.6H343.9M324.2,85v7.2M343.9,85v7.2" stroke="#4a4a4a" stroke-width="1" fill="none"/>
<path d="M343.9,97.9H364.4M343.9,94.3v7.2M364.4,94.3v7.2" stroke="#4a4a4a" stroke-width="1" fill="none"/>
<text x="419.15" y="74.4" font-size="8" font-weight="bold" text-anchor="start" fill="#000" textLength="22.8" lengthAdjust="spacingAndGlyphs">G0/G1</text>
<text x="455.05" y="85.8" font-size="8" font-weight="bold" text-anchor="start" fill="#000" textLength="6.5" lengthAdjust="spacingAndGlyphs">S</text>
<text x="476.65" y="87.8" font-size="8" font-weight="bold" text-anchor="start" fill="#000" textLength="19.7" lengthAdjust="spacingAndGlyphs">G2/M</text>
<path d="M434.3,76.3H448.5M434.3,72.7v7.2M448.5,72.7v7.2" stroke="#4a4a4a" stroke-width="1" fill="none"/>
<path d="M448.5,88.1H468.1M448.5,84.5v7.2M468.1,84.5v7.2" stroke="#4a4a4a" stroke-width="1" fill="none"/>
<path d="M468.1,99.2H489.3M468.1,95.6v7.2M489.3,95.6v7.2" stroke="#4a4a4a" stroke-width="1" fill="none"/>
<text x="159.75" y="191.7" font-size="8" font-weight="bold" text-anchor="start" fill="#000" textLength="23" lengthAdjust="spacingAndGlyphs">G0/G1</text>
<text x="209.55" y="203.4" font-size="8" font-weight="bold" text-anchor="start" fill="#000" textLength="6.1" lengthAdjust="spacingAndGlyphs">S</text>
<text x="221.15" y="229.4" font-size="8" font-weight="bold" text-anchor="start" fill="#000" textLength="19.4" lengthAdjust="spacingAndGlyphs">G2/M</text>
<path d="M180.6,194.8H201.4M180.6,191.2v7.2M201.4,191.2v7.2" stroke="#4a4a4a" stroke-width="1" fill="none"/>
<path d="M201.4,205.5H222.5M201.4,201.9v7.2M222.5,201.9v7.2" stroke="#4a4a4a" stroke-width="1" fill="none"/>
<path d="M222.5,216.2H239.4M222.5,212.6v7.2M239.4,212.6v7.2" stroke="#4a4a4a" stroke-width="1" fill="none"/>
<text x="286.35" y="191.8" font-size="8" font-weight="bold" text-anchor="start" fill="#000" textLength="23.9" lengthAdjust="spacingAndGlyphs">G0/G1</text>
<text x="334.45" y="221.2" font-size="8" font-weight="bold" text-anchor="start" fill="#000" textLength="5.7" lengthAdjust="spacingAndGlyphs">S</text>
<text x="345.15" y="227.6" font-size="8" font-weight="bold" text-anchor="start" fill="#000" textLength="19.6" lengthAdjust="spacingAndGlyphs">G2/M</text>
<path d="M309,189.5H322.4M309,185.9v7.2M322.4,185.9v7.2" stroke="#4a4a4a" stroke-width="1" fill="none"/>
<path d="M322.4,205.6H343.6M322.4,202v7.2M343.6,202v7.2" stroke="#4a4a4a" stroke-width="1" fill="none"/>
<path d="M343.6,216.3H364.3M343.6,212.7v7.2M364.3,212.7v7.2" stroke="#4a4a4a" stroke-width="1" fill="none"/>
<text x="408.85" y="204.7" font-size="8" font-weight="bold" text-anchor="start" fill="#000" textLength="23.4" lengthAdjust="spacingAndGlyphs">G0/G1</text>
<text x="459.55" y="224.6" font-size="8" font-weight="bold" text-anchor="start" fill="#000" textLength="5.6" lengthAdjust="spacingAndGlyphs">S</text>
<text x="473.75" y="211.6" font-size="8" font-weight="bold" text-anchor="start" fill="#000" textLength="18.6" lengthAdjust="spacingAndGlyphs">G2/M</text>
<path d="M436.5,202.5H446.9M436.5,198.9v7.2M446.9,198.9v7.2" stroke="#4a4a4a" stroke-width="1" fill="none"/>
<path d="M446.9,209.9H470.4M446.9,206.3v7.2M470.4,206.3v7.2" stroke="#4a4a4a" stroke-width="1" fill="none"/>
<path d="M470.4,216H491.2M470.4,212.4v7.2M491.2,212.4v7.2" stroke="#4a4a4a" stroke-width="1" fill="none"/>
<text x="205.85" y="153.8" font-size="8.6" font-weight="bold" textLength="57.1" lengthAdjust="spacingAndGlyphs">MV<tspan font-size="4.47" dy="-2.24">Hh</tspan><tspan font-size="6.19" dy="-0.86">+</tspan><tspan dy="3.1"> 5 <tspan font-style="italic">μ</tspan>g/mL</tspan></text>
<text x="236.75" y="163.8" font-size="8.6" font-weight="bold" text-anchor="start" fill="#000" textLength="23.2" lengthAdjust="spacingAndGlyphs">+ cycl</text>
<text x="330.95" y="154.6" font-size="8.6" font-weight="bold" textLength="57.5" lengthAdjust="spacingAndGlyphs">MV<tspan font-size="4.47" dy="-2.24">Hh</tspan><tspan font-size="6.19" dy="-0.86">+</tspan><tspan dy="3.1"> 5 <tspan font-style="italic">μ</tspan>g/mL</tspan></text>
<text x="351.55" y="164.6" font-size="8.6" font-weight="bold" text-anchor="start" fill="#000" textLength="33.4" lengthAdjust="spacingAndGlyphs">+ @Smo</text>
<text x="455.65" y="155" font-size="8.6" font-weight="bold" textLength="57.2" lengthAdjust="spacingAndGlyphs">MV<tspan font-size="4.47" dy="-2.24">Hh</tspan><tspan font-size="6.19" dy="-0.86">+</tspan><tspan dy="3.1"> 5 <tspan font-style="italic">μ</tspan>g/mL</tspan></text>
<text x="465.65" y="165.5" font-size="8.6" font-weight="bold" text-anchor="start" fill="#000" textLength="44.4" lengthAdjust="spacingAndGlyphs">+ @control</text>
<defs><pattern id="hat" patternUnits="userSpaceOnUse" width="4.3" height="4.3" patternTransform="rotate(45)"><rect width="4.3" height="4.3" fill="#fff"/><rect x="0" y="0" width="2.0" height="4.3" fill="#000"/></pattern></defs>
<text x="111.6" y="290.3" font-size="16.2" font-weight="bold" text-anchor="start" fill="#000" textLength="13" lengthAdjust="spacingAndGlyphs">B</text>
<line x1="145.3" y1="289.7" x2="145.3" y2="388.4" stroke="#222" stroke-width="1.1"/>
<line x1="144.8" y1="388.2" x2="434.2" y2="388.2" stroke="#111" stroke-width="1.3"/>
<line x1="143.1" y1="290.2" x2="145.3" y2="290.2" stroke="#222" stroke-width="0.9"/>
<text x="138" y="294.75" font-size="7.3" font-weight="bold" text-anchor="end" fill="#000" textLength="8.3" lengthAdjust="spacingAndGlyphs">70</text>
<line x1="143.1" y1="318.2" x2="145.3" y2="318.2" stroke="#222" stroke-width="0.9"/>
<text x="138" y="322.75" font-size="7.3" font-weight="bold" text-anchor="end" fill="#000" textLength="8.3" lengthAdjust="spacingAndGlyphs">50</text>
<line x1="143.1" y1="346.2" x2="145.3" y2="346.2" stroke="#222" stroke-width="0.9"/>
<text x="138" y="350.75" font-size="7.3" font-weight="bold" text-anchor="end" fill="#000" textLength="8.3" lengthAdjust="spacingAndGlyphs">30</text>
<line x1="143.1" y1="374.2" x2="145.3" y2="374.2" stroke="#222" stroke-width="0.9"/>
<text x="138" y="378.75" font-size="7.3" font-weight="bold" text-anchor="end" fill="#000" textLength="8.3" lengthAdjust="spacingAndGlyphs">10</text>
<line x1="143.1" y1="388.2" x2="145.3" y2="388.2" stroke="#222" stroke-width="0.9"/>
<text x="138" y="392.75" font-size="7.3" font-weight="bold" text-anchor="end" fill="#000" textLength="4.2" lengthAdjust="spacingAndGlyphs">0</text>
<text x="124.3" y="337" font-size="12.4" font-weight="bold" text-anchor="middle" fill="#000" transform="rotate(-90 124.3 337.0)" textLength="56.5" lengthAdjust="spacingAndGlyphs">% Events</text>
<path d="M155.8,315.2V313.3M153.4,313.3H158.2" stroke="#000" stroke-width="0.9" fill="none"/>
<rect x="151.7" y="315.7" width="8.2" height="72.5" fill="#fff" stroke="#000" stroke-width="1"/>
<rect x="160.9" y="352.3" width="8.1" height="35.9" fill="url(#hat)" stroke="#000" stroke-width="1"/>
<path d="M173.85,367.1V365.5M171.45,365.5H176.25" stroke="#000" stroke-width="0.9" fill="none"/>
<rect x="170" y="367.6" width="7.7" height="20.6" fill="#000" stroke="#000" stroke-width="1"/>
<path d="M195.5,300.7V299.3M193.1,299.3H197.9" stroke="#000" stroke-width="0.9" fill="none"/>
<rect x="191.5" y="301.2" width="8" height="87" fill="#fff" stroke="#000" stroke-width="1"/>
<rect x="200.5" y="367.5" width="7.2" height="20.7" fill="url(#hat)" stroke="#000" stroke-width="1"/>
<path d="M212.65,366.7V363.4M210.25,363.4H215.05" stroke="#000" stroke-width="0.9" fill="none"/>
<rect x="208.7" y="367.2" width="7.9" height="21" fill="#000" stroke="#000" stroke-width="1"/>
<path d="M234.7,310V307.1M232.3,307.1H237.1" stroke="#000" stroke-width="0.9" fill="none"/>
<rect x="230.9" y="310.5" width="7.6" height="77.7" fill="#fff" stroke="#000" stroke-width="1"/>
<rect x="239.5" y="373.5" width="7.2" height="14.7" fill="url(#hat)" stroke="#000" stroke-width="1"/>
<rect x="247.7" y="361.2" width="7.7" height="27" fill="#000" stroke="#000" stroke-width="1"/>
<path d="M273.65,344.5V340.9M271.25,340.9H276.05" stroke="#000" stroke-width="0.9" fill="none"/>
<rect x="269.7" y="345" width="7.9" height="43.2" fill="#fff" stroke="#000" stroke-width="1"/>
<rect x="278.6" y="373.5" width="7.5" height="14.7" fill="url(#hat)" stroke="#000" stroke-width="1"/>
<path d="M291.25,334.4V331.7M288.85,331.7H293.65" stroke="#000" stroke-width="0.9" fill="none"/>
<rect x="287.1" y="334.9" width="8.3" height="53.3" fill="#000" stroke="#000" stroke-width="1"/>
<path d="M313.8,301V297.9M311.4,297.9H316.2" stroke="#000" stroke-width="0.9" fill="none"/>
<rect x="309.8" y="301.5" width="8" height="86.7" fill="#fff" stroke="#000" stroke-width="1"/>
<path d="M322.5,363.1V360.2M320.1,360.2H324.9" stroke="#000" stroke-width="0.9" fill="none"/>
<rect x="318.8" y="363.6" width="7.4" height="24.6" fill="url(#hat)" stroke="#000" stroke-width="1"/>
<path d="M331.55,369.4V367M329.15,367H333.95" stroke="#000" stroke-width="0.9" fill="none"/>
<rect x="327.2" y="369.9" width="8.7" height="18.3" fill="#000" stroke="#000" stroke-width="1"/>
<path d="M353.1,306.6V303.5M350.7,303.5H355.5" stroke="#000" stroke-width="0.9" fill="none"/>
<rect x="349.1" y="307.1" width="8" height="81.1" fill="#fff" stroke="#000" stroke-width="1"/>
<rect x="358.1" y="371.6" width="7.4" height="16.6" fill="url(#hat)" stroke="#000" stroke-width="1"/>
<path d="M370.6,366.7V364.6M368.2,364.6H373" stroke="#000" stroke-width="0.9" fill="none"/>
<rect x="366.5" y="367.2" width="8.2" height="21" fill="#000" stroke="#000" stroke-width="1"/>
<path d="M392.05,331.7V327.6M389.65,327.6H394.45" stroke="#000" stroke-width="0.9" fill="none"/>
<rect x="388.1" y="332.2" width="7.9" height="56" fill="#fff" stroke="#000" stroke-width="1"/>
<rect x="397" y="373.3" width="7.7" height="14.9" fill="url(#hat)" stroke="#000" stroke-width="1"/>
<path d="M409.95,348.1V346.2M407.55,346.2H412.35" stroke="#000" stroke-width="0.9" fill="none"/>
<rect x="405.7" y="348.6" width="8.5" height="39.6" fill="#000" stroke="#000" stroke-width="1"/>
<text x="204.5" y="363.4" font-size="11" font-weight="bold" stroke="#000" stroke-width="0.3" textLength="3.9" lengthAdjust="spacing" text-anchor="middle">*</text>
<text x="243.2" y="365.2" font-size="11" font-weight="bold" stroke="#000" stroke-width="0.3" textLength="9.2" lengthAdjust="spacing" text-anchor="middle">**</text>
<text x="273.4" y="338.2" font-size="11" font-weight="bold" stroke="#000" stroke-width="0.3" textLength="3.9" lengthAdjust="spacing" text-anchor="middle">*</text>
<text x="282.7" y="366.6" font-size="11" font-weight="bold" stroke="#000" stroke-width="0.3" textLength="9.2" lengthAdjust="spacing" text-anchor="middle">**</text>
<text x="292" y="331.2" font-size="11" font-weight="bold" stroke="#000" stroke-width="0.3" textLength="9.2" lengthAdjust="spacing" text-anchor="middle">**</text>
<text x="400.9" y="370.3" font-size="11" font-weight="bold" stroke="#000" stroke-width="0.3" textLength="9.2" lengthAdjust="spacing" text-anchor="middle">**</text>
<text x="410.8" y="343.4" font-size="11" font-weight="bold" stroke="#000" stroke-width="0.3" textLength="9.2" lengthAdjust="spacing" text-anchor="middle">**</text>
<text x="322.4" y="354.9" font-size="14" font-weight="bold" textLength="6.4" lengthAdjust="spacingAndGlyphs" text-anchor="middle">†</text>
<text x="331" y="362.1" font-size="14" font-weight="bold" textLength="6.4" lengthAdjust="spacingAndGlyphs" text-anchor="middle">†</text>
<text x="370.6" y="359.9" font-size="14" font-weight="bold" textLength="6.4" lengthAdjust="spacingAndGlyphs" text-anchor="middle">†</text>
<text x="164.3" y="397.6" font-size="7.4" font-weight="bold" text-anchor="middle" fill="#000" textLength="28.6" lengthAdjust="spacingAndGlyphs">Control</text>
<text x="203.8" y="397.6" font-size="7.4" font-weight="bold" text-anchor="middle" fill="#000">1</text>
<text x="242.2" y="397.6" font-size="7.4" font-weight="bold" text-anchor="middle" fill="#000">5</text>
<text x="281.7" y="397.6" font-size="7.4" font-weight="bold" text-anchor="middle" fill="#000">10</text>
<text x="318.8" y="397.6" font-size="7.4" font-weight="bold" text-anchor="middle" fill="#000" textLength="21.6" lengthAdjust="spacingAndGlyphs">+ cycl</text>
<text x="358.4" y="397.6" font-size="7.4" font-weight="bold" text-anchor="middle" fill="#000" textLength="31.6" lengthAdjust="spacingAndGlyphs">+ @Smo</text>
<text x="406.95" y="397.6" font-size="7.4" font-weight="bold" text-anchor="middle" fill="#000" textLength="42.3" lengthAdjust="spacingAndGlyphs">+ @control</text>
<line x1="189.2" y1="400.4" x2="296" y2="400.4" stroke="#111" stroke-width="1.3"/>
<line x1="303.8" y1="400.6" x2="435.8" y2="400.6" stroke="#111" stroke-width="1.3"/>
<text x="211.1" y="410.3" font-size="7.5" font-weight="bold" textLength="53.6" lengthAdjust="spacingAndGlyphs">MV<tspan font-size="4" dy="-3">Hh</tspan><tspan font-size="5.6" dy="0.2">+</tspan><tspan dy="2.8"> (<tspan font-style="italic">μ</tspan>g/mL)</tspan></text>
<text x="338.4" y="410.3" font-size="7.5" font-weight="bold" textLength="52.9" lengthAdjust="spacingAndGlyphs">MV<tspan font-size="4" dy="-3">Hh</tspan><tspan font-size="5.6" dy="0.2">+</tspan><tspan dy="2.8"> 5 <tspan font-style="italic">μ</tspan>g/mL</tspan></text>
<rect x="428.6" y="308.6" width="27" height="9.8" fill="#fff" stroke="#000" stroke-width="1.1"/>
<rect x="428.6" y="323.1" width="27" height="10.2" fill="url(#hat)" stroke="#000" stroke-width="1.1"/>
<rect x="428.6" y="337.4" width="27" height="9.4" fill="#000" stroke="#000" stroke-width="1.1"/>
<text x="464.2" y="316.3" font-size="7.3" font-weight="bold" text-anchor="start" fill="#000" textLength="22.9" lengthAdjust="spacingAndGlyphs">G0/G1</text>
<text x="464.2" y="330.7" font-size="7.3" font-weight="bold" text-anchor="start" fill="#000" textLength="5.6" lengthAdjust="spacingAndGlyphs">S</text>
<text x="464.2" y="344.9" font-size="7.3" font-weight="bold" text-anchor="start" fill="#000" textLength="19.7" lengthAdjust="spacingAndGlyphs">G2/M</text>
</svg>
</body></html>
